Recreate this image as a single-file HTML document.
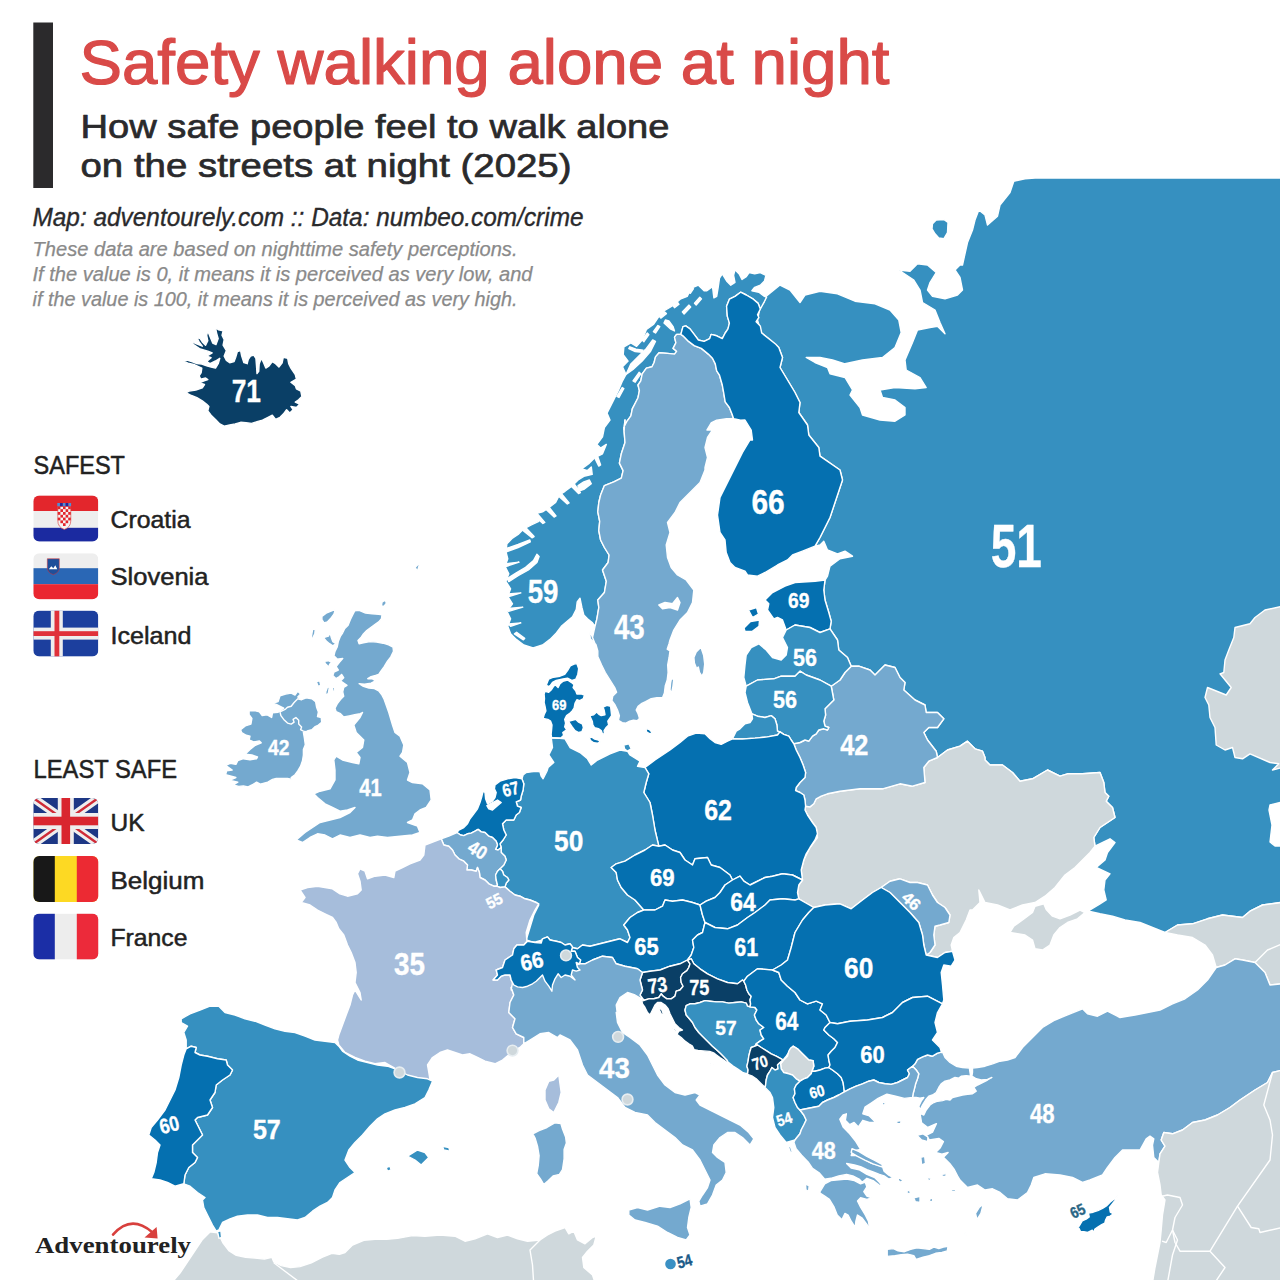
<!DOCTYPE html><html><head><meta charset="utf-8"><style>
html,body{margin:0;padding:0;background:#fff}
body{width:1280px;height:1280px;overflow:hidden;position:relative;font-family:"Liberation Sans",sans-serif}
svg{position:absolute;left:0;top:0;font-family:"Liberation Sans",sans-serif}
.map path{stroke:#fff;stroke-width:1.4;stroke-linejoin:round}
.lab text{font-weight:bold;text-anchor:middle;stroke-width:0.35px;stroke-linejoin:round}
</style></head><body>
<svg width="1280" height="1280" viewBox="0 0 1280 1280">
<defs><clipPath id="fc0"><rect x="33.3" y="495.4" width="65" height="46" rx="6" ry="6"/></clipPath><clipPath id="fc1"><rect x="33.3" y="553.2" width="65" height="46" rx="6" ry="6"/></clipPath><clipPath id="fc2"><rect x="33.3" y="610.6" width="65" height="46" rx="6" ry="6"/></clipPath><clipPath id="fc3"><rect x="33.3" y="798" width="65" height="46" rx="6" ry="6"/></clipPath><clipPath id="fc4"><rect x="33.3" y="856" width="65" height="46" rx="6" ry="6"/></clipPath><clipPath id="fc5"><rect x="33.3" y="913.6" width="65" height="46" rx="6" ry="6"/></clipPath></defs>
<g class="map">
<path d="M766.2,296.2 780,285 790,290 800,302.5 805,295 820,291.2 837.5,293.8 855,301.2 875,303.8 890,310 898.8,320 901.2,332.5 895,347.5 882.5,357.5 862.5,360 845,363.8 832.5,360 820,357.5 806.2,357.5 815,362.5 827.5,367.5 830,373.8 845,377.5 852.5,390 850,395 860,407.5 862.5,415 880,420 895,421.2 905,415 905,407.5 895,400 882.5,397.5 880,390 895,387.5 915,388.8 926.2,387.5 920,377.5 906.2,370 905,360 912.5,342.5 917.5,330 930,327.5 937.5,326.2 945,333.8 940,322.5 935,310 922.5,302.5 920,290 913.8,280 898.8,270 910,271.2 917.5,263.8 927.5,265 936.2,272.5 930,282.5 927.5,290 932.5,296.2 945,298.8 957.5,295 962.5,290 960,277.5 955,270 960,265 962.5,265 967.5,242.5 972.5,230 975,220 978.8,210 985,215 987.5,225 997.5,216.2 1000,205 1010,192.5 1013.8,181.2 1025,178.8 1035,178 1282,178 1282,802 1270,805 1269,810 1272,825 1270,842 1275,846 1282,846 1282,903 1280,902.5 1262.5,905 1250,911.2 1242.5,917.5 1222.5,915 1207.5,918.8 1192.5,923.8 1177.5,925 1165,932.5 1152.5,927.5 1140,922.5 1125,920 1112.5,916.2 1100,913.8 1088.8,911.2 1090,910 1100,903.8 1106.2,900 1103.8,890 1105,880 1110,873.8 1096.2,867.5 1105,860 1107.5,852.5 1115,842.5 1110,838.8 1095,846.2 1095,846.2 1093.8,837.5 1100,827.5 1115,817.5 1112.5,807.5 1106.2,801.2 1108.8,796.2 1105,792.5 1103.8,782.5 1100,772.5 1082.5,773.8 1067.5,773.8 1060,776.2 1047.5,770 1032.5,778.8 1020,781.2 1012.5,772.5 1002.5,765 990,765 985,760 985,757.5 982.5,751.2 975,748.8 967.5,741.2 960,746.2 947.5,750 937.5,757.5 937.5,757.5 936.2,751.2 927.5,740 923.8,732.5 928.8,727.5 937.5,727.5 943.8,718.8 937.5,712.5 926.2,712.5 925,705 915,700 903.8,690 905,682.5 900,677.5 895,667.5 885,665 875,675 870,670 858.8,666.2 851.2,666.2 851.2,666.2 847.5,657.5 838.8,650 837.5,640 830,628.8 830,628.8 831.2,621.2 828.8,612.5 825,600 823.8,590 825,580 827.5,576.2 830,566.2 840,558.8 852.5,556.2 845,551.2 837.5,553.8 827.5,550 823.8,541.2 820,545 815,546.2 820,537.5 830,517.5 837.5,495 842.5,480 840,470 820,456.2 818.8,447.5 808.8,435 807.5,425 798.8,412.5 800,402.5 795,392.5 780,367.5 782.5,357.5 778.8,347.5 761.2,332.5 757.5,320 760,307.5 763.8,302.5Z" fill="#3690c0" stroke="#3690c0" stroke-width="2.5"/>
<path d="M1282.5,606.2 1265,610 1255,617.5 1250,623.8 1235,627.5 1233.8,637.5 1228.8,650 1225,660 1223.8,672.5 1220,673.8 1231.2,687.5 1226.2,695 1207.5,687.5 1205,697.5 1208.8,705 1210,717.5 1215,727.5 1216.2,745 1225,750 1232.5,747.5 1235,757.5 1242.5,758.8 1250,753.8 1270,762.5 1278.8,763.8 1272.5,770 1282.5,767.5Z" fill="#cfd8dc" stroke="#cfd8dc" stroke-width="2.5"/>
<path d="M1282.5,902.5 1262.5,905 1250,911.2 1242.5,917.5 1222.5,915 1207.5,918.8 1192.5,923.8 1177.5,925 1165,932.5 1177.5,935 1192.5,937.5 1205,945 1212.5,955 1216.2,967.5 1225,965 1235,958.8 1242.5,960 1255,962.5 1265,972.5 1270,985 1282.5,983.8Z" fill="#cfd8dc" stroke="#cfd8dc" stroke-width="2.5"/>
<path d="M972.5,1068.1 977.5,1067.5 985,1066.2 992.5,1063.8 1000,1061.2 1007.5,1060 1015,1057.5 1018.8,1052.5 1022.5,1047.5 1027.5,1042.5 1032.5,1037.5 1037.5,1032.5 1042.5,1027.5 1055,1020 1070,1013.8 1082.5,1008.8 1087.5,1013.8 1097.5,1016.2 1107.5,1011.2 1120,1017.5 1135,1015 1147.5,1012.5 1160,1010 1172.5,1003.8 1185,998.8 1197.5,990 1207.5,980 1216.2,967.5 1225,965 1235,958.8 1242.5,960 1255,962.5 1265,972.5 1270,985 1282.5,983.8 1282.5,1070 1272.5,1072.5 1267.5,1082.5 1255,1090 1240,1100 1230,1107.5 1217.5,1115 1205,1120 1192.5,1122.5 1182.5,1130 1172.5,1133.8 1163.8,1132.5 1161.2,1140 1165,1146.2 1160,1153.8 1158.8,1162.5 1153.8,1157.5 1152.5,1145 1153.8,1138.8 1150,1136.2 1146.2,1138.8 1140,1150 1132.5,1150 1122.5,1150 1115,1157.5 1107.5,1167.5 1102.5,1175 1090,1180 1082.5,1182.5 1072.5,1177.5 1060,1175 1045,1173.8 1033.8,1177.5 1031.2,1185 1027.5,1192.5 1017.5,1200 1007.5,1198.8 1000,1192.5 992.5,1188.8 985,1190 977.5,1185 967.5,1187.5 960,1180 957.5,1175.9 954.4,1169.7 949.7,1163.4 943.4,1157.2 948.1,1152.5 941.9,1154.1 935.6,1152.5 940.3,1147.8 943.4,1141.6 938.8,1138.4 929.4,1140 926.2,1135.3 932.5,1132.2 936.4,1123.6 927.8,1127.5 921.6,1122.8 920,1113.4 923.8,1115 926.2,1110 930,1105 933.8,1102.5 937.5,1101.2 942.5,1100.6 946.2,1099.4 950,1100 952.5,1097.5 957.5,1096.2 962.5,1095 967.5,1094.4 972.5,1093.8 976.2,1091.2 973.8,1087.5 977.5,1085 982.5,1082.5 987.5,1080 991.9,1077.5 987.5,1079.4 981.2,1080 976.2,1078.8 971.9,1076.2 972.5,1072.5Z" fill="#74a9cf" stroke="#74a9cf" stroke-width="2.5"/>
<path d="M912.5,1066.2 915,1063.8 917.5,1059.4 922.5,1056.9 927.5,1055 932.5,1056.2 937.5,1053.1 942.5,1051.9 945,1057.5 950,1062.5 956.2,1066.2 962.5,1067.5 969.4,1068.1 970,1072.5 970.6,1076.2 966.2,1075.6 961.2,1076.2 958.8,1078.1 955,1077.5 950,1080 945,1081.2 941.2,1083.8 938.8,1087.5 936.2,1092.5 932.5,1095 928.8,1096.2 925.6,1100 922.5,1105 920,1110 918.8,1106.2 921.2,1101.2 923.8,1097.5 920,1098.1 916.2,1097.5 912.5,1097.5 913.1,1093.8 914.4,1088.8 915.6,1083.8 917.5,1078.8 918.8,1073.8 916.2,1070Z" fill="#74a9cf" stroke="#74a9cf" stroke-width="2.5"/>
<path d="M1282.5,1070 1272.5,1072.5 1267.5,1082.5 1255,1090 1240,1100 1230,1107.5 1217.5,1115 1205,1120 1192.5,1122.5 1182.5,1130 1172.5,1133.8 1163.8,1132.5 1161.2,1140 1165,1146.2 1160,1153.8 1158.8,1162.5 1157.5,1172.5 1160,1185 1161.2,1195 1165,1200 1162.5,1215 1161.2,1230 1160,1242.5 1157.5,1255 1155,1267.5 1152.5,1282.5 1282.5,1282.5Z" fill="#cfd8dc" stroke="#cfd8dc" stroke-width="2.5"/>
<path d="M805,810 807.5,815 812.5,822.5 816.2,827.5 817.5,837.5 810,847.5 803.8,860 801.2,870 802.5,880 798.8,885 797.5,892.5 798.8,898.8 805,902.5 813.8,907.5 825,905 840,903.8 851.2,908.8 862.5,900 872.5,892.5 881.2,887.5 890,881.2 900,878.8 910,882.5 917.5,882.5 927.5,885 932.5,895 937.5,902.5 945,907.5 950,915 948.8,922.5 940,925 935,926.2 933.8,935 935,945 930,952.5 926.2,955 937.5,957.5 945,952.5 952.5,951.2 951.2,945 953.8,937.5 960,932.5 966.2,920 970,910 972.5,910 980,902.5 978.8,890 985,902.5 997.5,905 1010,910 1022.5,905 1035,902.5 1045,896.2 1055,887.5 1065,875 1075,867.5 1082.5,860 1090,852.5 1095,846.2 1095,846.2 1093.8,837.5 1100,827.5 1115,817.5 1112.5,807.5 1106.2,801.2 1108.8,796.2 1105,792.5 1103.8,782.5 1100,772.5 1082.5,773.8 1067.5,773.8 1060,776.2 1047.5,770 1032.5,778.8 1020,781.2 1012.5,772.5 1002.5,765 990,765 985,760 985,757.5 982.5,751.2 975,748.8 967.5,741.2 960,746.2 947.5,750 937.5,757.5 937.5,757.5 928.8,761.2 923.8,767.5 925,782.5 912.5,786.2 900,783.8 882.5,788.8 860,788.8 840,791.2 833.8,792.5 827.5,793.8 821.2,796.2 816.2,798.8 813.8,803.8 810,806.9 805.6,806.2Z" fill="#cfd8dc" stroke="#cfd8dc" stroke-width="2.5"/>
<path d="M831.2,686.2 840,680 845,672.5 851.2,666.2 858.8,666.2 870,670 875,675 885,665 895,667.5 900,677.5 905,682.5 903.8,690 915,700 925,705 926.2,712.5 937.5,712.5 943.8,718.8 937.5,727.5 928.8,727.5 923.8,732.5 927.5,740 936.2,751.2 937.5,757.5 928.8,761.2 923.8,767.5 925,782.5 912.5,786.2 900,783.8 882.5,788.8 860,788.8 840,791.2 833.8,792.5 827.5,793.8 821.2,796.2 816.2,798.8 813.8,803.8 810,806.9 805.6,806.2 805,800 803.8,795 800,792.5 795.6,790.6 796.2,787.5 800,782.5 805,777.5 805.6,772.5 803.1,765 800,757.5 796.2,750 793.8,743.8 800,742.5 805,740 808.8,741.2 812.5,736.2 816.2,733.8 818.8,730 823.8,728.8 827.5,730 828.8,727.5 825,726.2 823.8,721.2 825.6,715 825,708.8 830,703.8 833.8,700Z" fill="#74a9cf" stroke="#74a9cf" stroke-width="2.5"/>
<path d="M881.2,887.5 890,881.2 900,878.8 910,882.5 917.5,882.5 927.5,885 932.5,895 937.5,902.5 945,907.5 950,915 948.8,922.5 940,925 935,926.2 933.8,935 935,945 930,952.5 926.2,955 923.8,945 922.5,935 918.8,922.5 910,912.5 900,902.5 890,892.5Z" fill="#74a9cf" stroke="#74a9cf" stroke-width="2.5"/>
<path d="M595,626.3 592.2,622.5 587.5,618.8 583.8,615 581.9,607.5 580,598.1 577.2,601.9 576.3,609.4 572.5,616.9 566.9,621.6 561.3,626.3 555.6,633.8 550,639.4 542.5,645 533.1,647.8 523.8,645 516.3,639.4 510.6,633.8 507.8,626.3 510.6,618.8 506.9,611.3 512.5,603.8 507.8,596.3 510.6,588.8 505.9,581.3 508.8,573.8 505,566.3 507.8,558.8 505.9,551.3 506.9,543.8 512.5,538.1 518.1,534.4 523.8,528.8 531.3,525 538.8,521.3 535,513.8 542.5,511.9 548.1,508.1 555.6,502.5 559.4,495 565,491.3 572.5,485.6 578.1,480 583.8,476.3 592.2,474.4 591.3,466.9 587.5,470.6 581.9,468.8 589.4,463.1 595,457.5 602.5,453.8 606.3,444.4 600.6,448.1 596.9,444.4 602.5,436.9 604.4,427.5 610,420 607,413.1 612.7,401.9 618.3,390.6 622.5,380.8 626,374.5 622.5,366.7 628.1,361.1 623.2,354.8 623.9,347 630.9,342.8 636.6,346.3 642.2,340 646.4,329.5 653.4,324.5 659.1,316.1 664.7,310.5 673.1,305.5 680.2,299.2 687.2,296.4 691.4,288 698.4,285.2 704.1,290.8 706.9,290.8 712.5,286.6 713.9,297.8 716.7,296.4 718.1,288 719.5,278.1 722.3,273.9 726.6,280.9 730.8,285.2 735,282.3 733.6,275.3 735,269.7 739.2,273.9 742,279.5 746.3,276.7 749.1,272.5 754.7,273.9 760.3,272.5 765.9,275.3 764.5,280.9 760.3,285.2 754.7,287.3 751.9,290.8 758.9,292.2 764.5,296.4 766.6,297.1 763.8,302.7 760.3,309.1 760.3,309.1 758.2,303.4 753.3,299.2 746.3,295 740.6,292.2 735,296.4 729.4,299.2 726.6,306.3 727.3,316.1 729.4,323.1 728,328.8 725.2,333 722.3,338.6 716.7,335.8 711.1,334.4 709.7,338.6 704.1,341.4 698.4,340 694.2,334.4 690,328.8 685.8,325.9 683,326.6 681.6,331.6 680.9,334.4 680.9,334.4 676.6,334.4 674.5,337.2 675.9,342.8 673.1,348.4 676.6,351.3 674.5,354.1 667.5,353.4 659.1,352.7 655.5,356.9 654.1,362.5 652,366.7 646.4,368.1 642.2,373.8 640.8,380.8 638,385 639.4,390.6 638,397.7 635.2,403.3 632.3,408.9 630.9,415.9 626.7,421.6 623.9,427.2 623.9,430 625,420 624.1,431.3 625,442.5 621.3,453.8 619.4,463.1 623.1,470.6 621.3,478.1 613.8,481.9 604.4,485.6 600.6,495 598.8,502.5 597.8,511.9 599.7,521.3 598.8,530.6 600.6,540 604.4,547.5 609.1,555 608.1,562.5 602.5,570 606.3,581.3 604.4,592.5 597.8,600 598.8,607.5 596.9,618.8 595,626.3Z" fill="#3690c0" stroke="#3690c0" stroke-width="2.5"/>
<path d="M595,626.3 596.9,618.8 598.8,607.5 597.8,600 604.4,592.5 606.3,581.3 602.5,570 608.1,562.5 609.1,555 604.4,547.5 600.6,540 598.8,530.6 599.7,521.3 597.8,511.9 598.8,502.5 600.6,495 604.4,485.6 613.8,481.9 621.3,478.1 623.1,470.6 619.4,463.1 621.3,453.8 625,442.5 624.1,431.3 625,420 623.9,430 623.9,427.2 626.7,421.6 630.9,415.9 632.3,408.9 635.2,403.3 638,397.7 639.4,390.6 638,385 640.8,380.8 642.2,373.8 646.4,368.1 652,366.7 654.1,362.5 655.5,356.9 659.1,352.7 667.5,353.4 674.5,354.1 676.6,351.3 673.1,348.4 675.9,342.8 674.5,337.2 676.6,334.4 680.9,334.4 680.9,334.4 683,335.8 688.6,341.4 694.2,345.6 701.3,348.4 708.3,354.1 712.5,358.3 715.3,363.9 716.7,370.9 719.5,375.2 722.3,385 723.8,393.4 725.2,401.9 729.4,407.5 732.2,414.5 733.6,418.8 726.6,418.8 716.7,420.2 711.1,423 706.9,430 712.5,430 707.5,437.5 705,447.5 707.5,457.5 705,467.5 705,470 700,482.5 690,492.5 680,502.5 675,512.5 667.5,522.5 670,532.5 666.2,545 667.5,557.5 671.2,567.5 677.5,575 686.2,580 693.8,590 692.5,602.5 687.5,612.5 680,620 673.8,630 670,640 669.1,643.4 667.2,649.1 670,650.9 669.1,657.5 667.7,665 668.1,672.5 667.2,680 665.3,685.6 664.4,693.1 662.5,697.8 656.9,697.8 651.2,698.7 645.6,701.6 641.9,703.4 638.1,706.2 636.2,710 638.1,713.7 639.5,718.4 637.2,720.8 633.4,720.3 629.7,721.2 625.9,723.1 622.2,722.7 618.4,720.3 619.4,715.6 617.5,710 614.7,704.4 611.9,700.6 612.8,695.9 616.6,692.2 614.7,687.5 610,680 605.3,672.5 601.6,665 597.8,656.6 597.8,650.9 595.9,644.4 590.3,638.7 589.4,629.4 597.5,650 592.5,637.5Z" fill="#74a9cf" stroke="#74a9cf" stroke-width="2.5"/>
<path d="M683,326.6 685.8,325.9 690,328.8 694.2,334.4 698.4,340 704.1,341.4 709.7,338.6 711.1,334.4 716.7,335.8 722.3,338.6 725.2,333 728,328.8 729.4,323.1 727.3,316.1 726.6,306.3 729.4,299.2 735,296.4 740.6,292.2 746.3,295 753.3,299.2 758.2,303.4 760.3,309.1 757.5,314.7 758.9,317.5 756.1,321.7 760.3,325.9 761.7,333 768.8,338.6 775.8,344.2 778.8,347.5 782.5,357.5 780,367.5 795,392.5 800,402.5 798.8,412.5 807.5,425 808.8,435 818.8,447.5 820,456.2 840,470 842.5,480 842.5,480 837.5,495 830,517.5 820,537.5 815,546.2 802.5,551.2 792.5,555 787.5,560 777.5,565 765,572.5 757.5,576.2 747.5,575 745,571.2 735,567.5 730,562.5 726.2,552.5 725,540 720,532.5 717.5,515 720,497.5 727.5,482.5 735,467.5 742.5,452.5 750,440 752.5,440 751.2,430 745,420 740.6,420.2 733.6,418.8 732.2,414.5 729.4,407.5 725.2,401.9 723.8,393.4 722.3,385 719.5,375.2 716.7,370.9 715.3,363.9 712.5,358.3 708.3,354.1 701.3,348.4 694.2,345.6 688.6,341.4 683,335.8 680.9,334.4 681.6,331.6Z" fill="#0570b0" stroke="#0570b0" stroke-width="2.5"/>
<path d="M765,600 772.5,592.5 785,586.2 795,582.5 815,581.2 825,580 823.8,590 825,600 828.8,612.5 831.2,621.2 830,628.8 820,632.5 810,627.5 795,625 786.2,630 782.5,620 777.5,617.5 773.8,618.8 767.5,610 768.8,603.8Z" fill="#0570b0" stroke="#0570b0" stroke-width="2.5"/>
<path d="M786.2,630 795,625 810,627.5 820,632.5 830,628.8 837.5,640 838.8,650 847.5,657.5 851.2,666.2 845,672.5 840,680 831.2,686.2 820,680 806.2,675 800,671.2 795,676.2 781.2,676.2 773.8,678.8 757.5,680 746.2,686.2 743.8,677.5 745,665 746.2,655 751.2,647.5 758.8,643.8 766.2,650 772.5,657.5 781.2,660 786.2,655 787.5,647.5 782.5,637.5Z" fill="#3690c0" stroke="#3690c0" stroke-width="2.5"/>
<path d="M746.2,686.2 757.5,680 773.8,678.8 781.2,676.2 795,676.2 800,671.2 806.2,675 820,680 831.2,686.2 833.8,700 830,703.8 825,708.8 825.6,715 823.8,721.2 825,726.2 828.8,727.5 827.5,730 823.8,728.8 818.8,730 816.2,733.8 812.5,736.2 808.8,741.2 805,740 800,742.5 793.8,743.8 791.2,740 788.8,736.2 783.8,734.4 780,731.9 777.5,731.2 776.9,725 775,718.8 771.2,715.6 765,717.5 757.5,716.2 751.9,713.8 747.5,702.5 745,692.5Z" fill="#3690c0" stroke="#3690c0" stroke-width="2.5"/>
<path d="M751.9,713.8 757.5,716.2 765,717.5 771.2,715.6 775,718.8 776.9,725 777.5,731.2 780,731.9 777.5,735 767.5,736.9 755,738.1 742.5,739 732.5,738.8 736.2,731.2 740,728.8 745,723.8 750,722.5 752.5,718.8Z" fill="#3690c0" stroke="#3690c0" stroke-width="2.5"/>
<path d="M645,767.5 655,760 670,750 680,742.5 687.5,736.2 696.2,733.1 705,733.8 710,738.8 715,742.5 721.2,744.4 727.5,741.2 732.5,738.8 742.5,739 755,738.1 767.5,736.9 777.5,735 780,731.9 783.8,734.4 788.8,736.2 791.2,740 793.8,743.8 796.2,750 800,757.5 803.1,765 805.6,772.5 805,777.5 800,782.5 796.2,787.5 795.6,790.6 800,792.5 803.8,795 805,800 805.6,806.2 805,810 807.5,815 812.5,822.5 816.2,827.5 817.5,833.8 815,840 810,847.5 806.2,853.8 803.8,860 801.2,870 802.5,880 792.5,875 782.5,873.8 772.5,876.2 765,877.5 755,882.5 750,885 743.8,881.2 740,876.2 732.5,880 730,875 720,867.5 711.2,865 707.5,857.5 695,858.8 692.5,865 685,860 680,852.5 672.5,850 665,845 658.8,846.2 655,830 652.5,815 650,802.5 643.8,792.5 646.2,782.5 648.8,773.8Z" fill="#0570b0" stroke="#0570b0" stroke-width="2.5"/>
<path d="M551.2,737.5 552.5,747.5 548.8,755 553.8,762.5 548.1,767.5 546.9,771.2 545,775 543.1,778.8 541.2,776.2 540,771.9 536.2,771.2 531.2,771.9 526.2,772.5 523.1,775 521.9,778.8 523.8,783.8 523.1,790 521.2,796.2 520.6,800 516.2,801.9 517.5,806.2 521.2,807.5 519.4,812.5 516.2,815 513.8,820 506.2,820 502.5,823.8 503.8,830 506.2,835 503.1,840 500,843.8 501.2,847.5 501.2,852.5 505,856.2 506.2,860 503.8,865 500,868.8 502.5,871.2 503.8,875 507.5,877.5 508.8,880 506.2,883.1 505,886.9 510,891.2 515,895 520,896.2 525,898.8 530,900 536.2,902.5 538.8,905 533.8,915 530,927.5 526.2,940 533.8,942.5 542.5,940 546.2,937.5 552.5,941.2 562.5,943.8 566.2,946.2 577.5,948.8 582.5,945 590,946.2 600,943.8 610,941.2 620,938.8 627.5,942.5 630,937.5 627.5,930 623.8,925 630,917.5 637.5,912.5 643.8,910 635,900 627.5,895 621.2,887.5 617.5,880 616.2,872.5 611.2,867.5 616.2,863.8 625,861.2 635,855 645,850 652.5,845 658.8,846.2 655,830 652.5,815 650,802.5 643.8,792.5 646.2,782.5 648.8,773.8 645,767.5 637.5,766.2 640,761.2 630,755 627.5,751.2 620,750 610,753.8 597.5,760 591.2,765 587.5,758.8 580,752.5 570,747.5 565,738.8Z" fill="#3690c0" stroke="#3690c0" stroke-width="2.5"/>
<path d="M611.2,867.5 616.2,863.8 625,861.2 635,855 645,850 652.5,845 658.8,846.2 665,845 672.5,850 680,852.5 685,860 692.5,865 695,858.8 707.5,857.5 711.2,865 720,867.5 730,875 732.5,880 725,885 720,892.5 715,897.5 706.2,901.2 700,905 692.5,902.5 682.5,900 672.5,901.2 665,900 662.5,906.2 655,910 643.8,910 635,900 627.5,895 621.2,887.5 617.5,880 616.2,872.5Z" fill="#0570b0" stroke="#0570b0" stroke-width="2.5"/>
<path d="M566.2,946.2 577.5,948.8 582.5,945 590,946.2 600,943.8 610,941.2 620,938.8 627.5,942.5 630,937.5 627.5,930 623.8,925 630,917.5 637.5,912.5 643.8,910 655,910 662.5,906.2 665,900 672.5,901.2 682.5,900 692.5,902.5 700,905 702.5,915 705,922.5 702.5,932.5 697.5,935 692.5,940 693.8,947.5 691.2,955 687.5,960 680,963.8 670,966.2 660,970 650,971.2 642.5,972.5 637.5,968.8 625,966.2 616.2,963.8 612.5,957.5 602.5,956.2 592.5,960 585,963.8 580,966.2 576.2,960 572.5,966.2 567.5,960 566.2,952.5Z" fill="#0570b0" stroke="#0570b0" stroke-width="2.5"/>
<path d="M493.1,980 497.5,975 496.2,970 502.5,967.5 505,960 512.5,955 513.8,948.8 516.9,945 523.8,945 527.5,941.2 535,942.5 541.2,943.1 542.5,938.8 547.5,936.9 550,940 556.2,941.2 561.2,942.5 565,945 570,943.8 572.5,946.9 571.2,951.2 575,951.2 577.5,957.5 580.6,960 579.4,963.8 576.2,962.5 577.5,967.5 580,970 576.2,971.2 572.5,970 571.2,975 575,980 570,976.2 565,975 561.2,977.5 558.1,973.8 555,978.8 552.5,985 551.9,991.2 548.8,986.2 545,981.2 542.5,975 540,977.5 536.2,981.2 532.5,983.8 527.5,986.2 522.5,987.5 517.5,986.9 513.8,985 511.2,980 510,975 505,975 501.2,976.2 497.5,980Z" fill="#0570b0" stroke="#0570b0" stroke-width="2.5"/>
<path d="M700,905 706.2,901.2 715,897.5 720,892.5 725,885 732.5,880 740,876.2 743.8,881.2 750,885 755,882.5 765,877.5 772.5,876.2 782.5,873.8 792.5,875 802.5,880 798.8,885 797.5,892.5 798.8,898.8 795,900 782.5,898.8 770,900 765,905 765,905 755,912.5 747.5,917.5 737.5,925 727.5,928.8 715,927.5 705,922.5 702.5,915Z" fill="#0570b0" stroke="#0570b0" stroke-width="2.5"/>
<path d="M693.8,947.5 692.5,940 697.5,935 702.5,932.5 705,922.5 715,927.5 727.5,928.8 737.5,925 747.5,917.5 755,912.5 765,905 765,905 770,900 782.5,898.8 795,900 798.8,898.8 805,902.5 813.8,907.5 808.8,912.5 802.5,920 795,932.5 791.2,947.5 787.5,960 781.2,965 772.5,970 757.5,968.8 752.5,972.5 747.5,976.2 743.8,981.2 742.5,980 737.5,983.8 727.5,982.5 717.5,978.8 707.5,973.8 700,968.8 693.8,963.8 691.2,958.8 687.5,960 691.2,955Z" fill="#0570b0" stroke="#0570b0" stroke-width="2.5"/>
<path d="M642.5,972.5 650,971.2 660,970 670,966.2 680,963.8 687.5,960 690,963.8 688.8,967.5 686.9,970.6 682.5,973.8 680.6,977.5 681.2,982.5 683.1,986.2 680,990 676.2,991.2 675,996.2 671.2,998.8 666.9,998.8 663.1,996.2 661.2,993.8 658.8,997.5 653.8,998.8 648.8,998.8 645,1000 641.9,1001.2 640,995 642.5,990 640,980Z" fill="#0a3f66" stroke="#0a3f66" stroke-width="2.5"/>
<path d="M687.5,960 691.2,958.8 693.8,963.8 700,968.8 707.5,973.8 717.5,978.8 727.5,982.5 737.5,983.8 742.5,980 743.8,981.2 745.6,985 746.9,990 748.8,993.8 751.2,996.2 750,1000 750.6,1003.8 750,1006.9 747.5,1006.2 746.2,1003.1 741.2,1001.9 735,1002.5 728.8,1003.1 722.5,1001.9 716.2,1001.9 710,1001.2 705,1000.6 700,1002.5 695,1003.8 690,1003.8 686.2,1005.6 685,1010 686.2,1015 689.4,1018.8 692.5,1022.5 695,1027.5 698.8,1032.5 702.5,1036.2 707.5,1041.2 712.5,1046.2 718.2,1051.2 720.6,1053.6 723.8,1056.8 726.9,1059.9 728,1062.1 726.9,1062.6 723.8,1060 719.9,1057.6 716.8,1055.2 713.6,1052.9 709.6,1051.4 703.4,1050.9 698,1050.5 694,1049.6 692.5,1046.2 688.8,1043.8 685,1041.2 681.2,1037.5 676.9,1034.4 678.8,1031.2 682.5,1030 678.8,1027.5 675,1023.8 672.5,1018.8 670,1013.8 668.1,1008.8 665,1005 661.2,1002.5 657.5,1002.5 655,1005 652.5,1010 650,1015 647.5,1012.5 645,1007.5 642.5,1003.8 641.9,1001.2 645,1000 648.8,998.8 653.8,998.8 658.8,997.5 661.2,993.8 663.1,996.2 666.9,998.8 671.2,998.8 675,996.2 676.2,991.2 680,990 683.1,986.2 681.2,982.5 680.6,977.5 682.5,973.8 686.9,970.6 688.8,967.5 690,963.8Z" fill="#0a3f66" stroke="#0a3f66" stroke-width="2.5"/>
<path d="M686.2,1005.6 690,1003.8 695,1003.8 700,1002.5 705,1000.6 710,1001.2 716.2,1001.9 722.5,1001.9 728.8,1003.1 735,1002.5 741.2,1001.9 746.2,1003.1 747.5,1006.2 750,1006.9 755,1007.5 756.9,1010 754.4,1015 756.2,1020 758.8,1023.8 763.8,1027.5 760,1030 761.2,1035 763.8,1038.8 760,1041.2 756.2,1043.8 755,1046.2 751.2,1047.5 750,1051.2 748.8,1056.2 748.1,1061.2 746.9,1066.2 748.1,1070 747.1,1073.9 742.5,1072.4 737.8,1069.2 733.1,1066.1 728,1062.1 726.9,1059.9 723.8,1056.8 720.6,1053.6 718.2,1051.2 712.5,1046.2 707.5,1041.2 702.5,1036.2 698.8,1032.5 695,1027.5 692.5,1022.5 689.4,1018.8 686.2,1015 685,1010Z" fill="#3690c0" stroke="#3690c0" stroke-width="2.5"/>
<path d="M747.5,976.2 752.5,972.5 757.5,968.8 772.5,970 778.8,972.5 781.2,980 787.5,986.2 795,992.5 800,1000 807.5,1003.8 816.2,1001.2 822.5,1003.8 820,1010 826.2,1015 830,1022.5 825,1027.5 823.8,1030 828.8,1035 833.8,1038.8 837.5,1042.5 835,1047.5 831.2,1051.2 828.1,1055 828.8,1060 830,1065 828.8,1067.5 825,1068.1 820,1070 815,1071.2 811.9,1071.2 813.8,1066.2 813.1,1060.6 808.8,1060 805,1056.2 801.2,1052.5 797.5,1048.8 793.1,1046.2 788.8,1052.5 786.2,1056.2 783.1,1060 781.2,1058.8 776.2,1056.2 771.2,1053.8 766.2,1050.6 761.2,1047.5 757.5,1045 755,1046.2 756.2,1043.8 760,1041.2 763.8,1038.8 761.2,1035 760,1030 763.8,1027.5 758.8,1023.8 756.2,1020 754.4,1015 756.9,1010 755,1007.5 750,1006.9 750.6,1003.8 750,1000 751.2,996.2 748.8,993.8 746.9,990 745.6,985 743.8,981.2Z" fill="#0570b0" stroke="#0570b0" stroke-width="2.5"/>
<path d="M793.1,1046.2 797.5,1048.8 801.2,1052.5 805,1056.2 808.8,1060 813.1,1060.6 813.8,1066.2 811.9,1071.2 811.2,1073.8 807.5,1077.5 803.8,1078.8 800,1081.2 796.2,1078.8 792.5,1075 788.8,1073.8 783.8,1072.5 781.2,1068.8 780.6,1063.8 783.8,1060 787.5,1056.2 788.8,1051.2 790.6,1048.1Z" fill="#cfd8dc" stroke="#cfd8dc" stroke-width="2.5"/>
<path d="M755,1046.2 757.5,1045 761.2,1047.5 766.2,1050.6 771.2,1053.8 776.2,1056.2 781.2,1058.8 783.1,1060 780,1062.5 777.5,1065 778.1,1068.8 775,1070 771.9,1067.5 770,1071.2 767.5,1075 766.2,1080 765.6,1085 765,1087.5 761.2,1083.8 756.2,1078.8 752.5,1076.2 747.5,1074.4 748.1,1070 746.9,1066.2 748.1,1061.2 748.8,1056.2 750,1051.2 751.2,1047.5Z" fill="#0a3f66" stroke="#0a3f66" stroke-width="2.5"/>
<path d="M765,1087.5 765.6,1085 766.2,1080 767.5,1075 770,1071.2 771.9,1067.5 775,1070 778.1,1068.8 777.5,1065 780,1062.5 783.1,1060 780.6,1063.8 781.2,1068.8 783.8,1072.5 788.8,1073.8 792.5,1075 796.2,1078.8 800,1081.2 796.2,1085 794.4,1088.8 795,1093.8 793.1,1097.5 795,1102.5 797.5,1107.5 800,1110 803.8,1115 806.2,1120 803.8,1125 801.2,1130 800,1133.8 796.9,1137.5 795,1140 786.2,1142.5 780,1135 775,1127.5 772.5,1117.5 773.8,1107.5 772.5,1097.5 770,1092.5Z" fill="#3690c0" stroke="#3690c0" stroke-width="2.5"/>
<path d="M828.8,1067.5 825,1068.1 820,1070 815,1071.2 811.9,1071.2 811.2,1073.8 807.5,1077.5 803.8,1078.8 800,1081.2 796.2,1085 794.4,1088.8 795,1093.8 793.1,1097.5 795,1102.5 797.5,1107.5 800,1110 806.2,1108.8 812.5,1107.5 818.8,1106.2 822.5,1102.5 827.5,1100 833.8,1097.5 838.8,1095 844.4,1091.9 843.8,1087.5 843.1,1082.5 841.2,1077.5 837.5,1073.8 832.5,1070Z" fill="#0570b0" stroke="#0570b0" stroke-width="2.5"/>
<path d="M813.8,907.5 825,905 840,903.8 851.2,908.8 862.5,900 872.5,892.5 881.2,887.5 890,892.5 900,902.5 910,912.5 918.8,922.5 922.5,935 923.8,945 926.2,955 937.5,957.5 945,952.5 952.5,951.2 955,960 951.2,966.2 943.8,965 941.2,972.5 942.5,985 943.8,1000 942.5,1003.8 927.5,996.2 912.5,997.5 902.5,1002.5 892.5,1012.5 882.5,1017.5 867.5,1020 850,1021.2 837.5,1023.8 830,1022.5 826.2,1015 820,1010 822.5,1003.8 816.2,1001.2 807.5,1003.8 800,1000 795,992.5 787.5,986.2 781.2,980 778.8,972.5 772.5,970 781.2,965 787.5,960 791.2,947.5 795,932.5 802.5,920 808.8,912.5Z" fill="#0570b0" stroke="#0570b0" stroke-width="2.5"/>
<path d="M830,1022.5 837.5,1023.8 850,1021.2 867.5,1020 882.5,1017.5 892.5,1012.5 902.5,1002.5 912.5,997.5 927.5,996.2 942.5,1003.8 937.5,1012.5 935,1022.5 937.5,1032.5 932.5,1040 940,1047.5 941.6,1052.5 942.5,1051.9 937.5,1053.1 932.5,1056.2 927.5,1055 922.5,1056.9 917.5,1059.4 915,1063.8 912.5,1066.2 907.5,1070 909.4,1073.8 907.5,1077.5 902.5,1080 897.5,1082.5 891.2,1084.4 885,1083.8 878.8,1082.5 873.8,1080 868.8,1081.2 862.5,1083.8 856.2,1086.2 850,1088.8 844.4,1091.9 843.8,1087.5 843.1,1082.5 841.2,1077.5 837.5,1073.8 832.5,1070 828.8,1067.5 830,1065 828.8,1060 828.1,1055 831.2,1051.2 835,1047.5 837.5,1042.5 833.8,1038.8 828.8,1035 823.8,1030 825,1027.5Z" fill="#0570b0" stroke="#0570b0" stroke-width="2.5"/>
<path d="M521.9,778.8 523.8,783.8 523.1,790 521.2,796.2 520.6,800 516.2,801.9 517.5,806.2 521.2,807.5 519.4,812.5 516.2,815 513.8,820 506.2,820 502.5,823.8 503.8,830 506.2,835 503.1,840 500,843.8 501.2,847.5 498.1,850 495.6,849.4 497.5,845 496.2,841.2 492.5,837.5 488.8,836.2 485,832.5 481.2,831.9 478.1,829.4 475,831.2 471.2,833.1 467.5,833.8 463.8,835.6 460.6,835 456.9,832.5 458.8,830 463.8,827.5 467.5,823.8 470,818.8 473.8,813.8 477.5,808.8 480,802.5 481.9,796.2 483.1,791.2 485,792.5 485.6,798.8 487.5,803.8 492.5,801.2 495,797.5 496.2,792.5 494.4,788.8 495,785 500,781.2 507.5,778.8 515,777.5Z" fill="#0570b0" stroke="#0570b0" stroke-width="2.5"/>
<path d="M441.2,838.8 448.8,836.2 456.9,832.5 460.6,835 463.8,835.6 467.5,833.8 471.2,833.1 475,831.2 478.1,829.4 481.2,831.9 485,832.5 488.8,836.2 492.5,837.5 496.2,841.2 497.5,845 495.6,849.4 498.1,850 501.2,847.5 501.2,852.5 505,856.2 506.2,860 503.8,865 500,868.8 497.5,871.2 495.6,875 496.2,880 497.5,885 496.9,886.2 493.8,886.2 488.8,883.8 485,880 480,877.5 479.4,872.5 477.5,867.5 476.2,871.2 471.2,870 466.9,870 467.5,865 463.8,861.2 458.8,858.8 455,855 452.5,850 448.8,846.2 443.8,845Z" fill="#74a9cf" stroke="#74a9cf" stroke-width="2.5"/>
<path d="M425,845 423.8,855 420,860 410,863.8 402.5,867.5 395,871.2 393.8,877.5 385,875 375,876.2 367.5,878.8 365,871.2 360,868.8 357.5,873.8 360,881.2 361.2,890 357.5,893.8 347.5,896.2 340,893.8 332.5,888.8 325,887.5 317.5,886.2 307.5,887.5 300,890 305,897.5 301.2,902.5 310,905 317.5,910 325,913.8 332.5,917.5 336.2,922.5 338.8,928.8 343.8,935 347.5,945 351.2,952.5 355,962.5 356.2,972.5 355,982.5 360,992.5 361.2,1000 355,990 352.5,995 350,1005 346.2,1015 342.5,1025 338.8,1035 337.5,1040 338.8,1045 345,1052.5 355,1057.5 365,1061.2 375,1063.8 385,1062.5 393.8,1067.5 400,1072.5 407.5,1076.2 415,1077.5 422.5,1081.2 430,1080 428.8,1072.5 427.5,1065 432.5,1057.5 440,1052.5 447.5,1050 455,1052.5 462.5,1055 470,1053.8 477.5,1057.5 485,1061.2 495,1063.8 502.5,1060 510,1053.8 515,1050 520,1047.5 523.8,1043.8 523.8,1037.5 516.2,1033.8 512.5,1027.5 515,1018.8 508.8,1012.5 510,1002.5 513.8,995 511.2,987.5 513.8,985 511.2,980 510,975 505,975 501.2,976.2 497.5,980 493.1,980 497.5,975 496.2,970 502.5,967.5 505,960 512.5,955 513.8,948.8 516.9,945 523.8,945 526.9,941.2 526.2,932.5 530,920 535,910 538.8,903.8 536.2,902.5 530,900 525,898.8 520,896.2 515,895 510,891.2 505,886.9 500,887.5 496.9,886.2 493.8,886.2 488.8,883.8 485,880 480,877.5 479.4,872.5 477.5,867.5 476.2,871.2 471.2,870 466.9,870 467.5,865 463.8,861.2 458.8,858.8 455,855 452.5,850 448.8,846.2 443.8,845 441.2,838.8Z" fill="#a6bddb" stroke="#a6bddb" stroke-width="2.5"/>
<path d="M511.2,990 512.5,982.5 520,980 530,977.5 540,975 550,972.5 560,970 570,966.2 580,963.8 585,963.8 592.5,960 602.5,956.2 612.5,957.5 616.2,963.8 625,966.2 637.5,968.8 642.5,972.5 640,980 642.5,990 640,995 643.8,1000 635,995 627.5,992.5 620,997.5 616.2,1005 617.5,1015 621.2,1022.5 616.2,1012.5 617.5,1022.5 622.5,1032.5 630,1037.5 640,1045 647.5,1055 652.5,1065 657.5,1075 665,1085 675,1092.5 685,1095 695,1092.5 700,1095 696.2,1100 700,1105 710,1110 720,1115 730,1120 740,1125 748.8,1132.5 753.8,1138.8 750,1145 742.5,1137.5 735,1132.5 727.5,1132.5 720,1137.5 713.8,1145 712.5,1152.5 717.5,1157.5 725,1162.5 726.2,1172.5 722.5,1180 716.2,1185 712.5,1195 707.5,1203.8 700,1206.2 698.8,1201.2 702.5,1195 707.5,1187.5 710,1180 705,1170 700,1160 692.5,1150 682.5,1145 675,1137.5 665,1130 655,1122.5 647.5,1115 635,1112.5 625,1107.5 617.5,1097.5 607.5,1090 597.5,1082.5 587.5,1075 582.5,1065 577.5,1050 570,1040 560,1035 557.5,1037.5 548.8,1032.5 540,1033.8 530,1040 523.8,1043.8 523.8,1037.5 516.2,1033.8 512.5,1027.5 515,1018.8 508.8,1012.5 510,1002.5 513.8,995 511.2,987.5Z" fill="#74a9cf" stroke="#74a9cf" stroke-width="2.5"/>
<path d="M181.2,1018.8 190,1013.8 200,1010 210,1006.2 218.8,1006.2 225,1012.5 235,1015 245,1018.8 255,1021.2 265,1025 275,1028.8 285,1031.2 295,1032.5 305,1036.2 315,1040 325,1041.2 335,1042.5 338.8,1046.2 342.5,1051.2 350,1056.2 357.5,1060 367.5,1062.5 377.5,1065 387.5,1066.2 395,1068.8 400,1071.2 407.5,1075 417.5,1077.5 427.5,1078.8 432.5,1081.2 428.8,1090 425,1097.5 415,1103.8 405,1107.5 395,1110 385,1113.8 377.5,1118.8 370,1126.2 362.5,1135 355,1142.5 348.8,1150 345,1160 350,1167.5 355,1172.5 347.5,1177.5 340,1182.5 335,1190 332.5,1197.5 327.5,1202.5 320,1206.2 312.5,1211.2 305,1217.5 297.5,1220 287.5,1218.8 277.5,1217.5 267.5,1217.5 257.5,1215 247.5,1215 237.5,1216.2 230,1218.8 222.5,1222.5 218.8,1230 216.2,1231.2 212.5,1225 207.5,1215 203.8,1207.5 202.5,1200 205,1197.5 197.5,1192.5 190,1186.2 183.8,1183.8 185,1175 188.8,1167.5 195,1162.5 197.5,1157.5 192.5,1152.5 192.5,1145 197.5,1140 202.5,1135 198.8,1127.5 195,1120 197.5,1117.5 207.5,1115 212.5,1107.5 210,1100 215,1092.5 216.2,1085 222.5,1080 230,1075 232.5,1070 227.5,1065 226.2,1060 217.5,1058.8 207.5,1056.2 200,1055 195,1052.5 196.2,1047.5 191.2,1046.2 186.2,1048.8 186.2,1040 183.8,1032.5 187.5,1026.2 181.2,1022.5Z" fill="#3690c0" stroke="#3690c0" stroke-width="2.5"/>
<path d="M186.2,1048.8 191.2,1046.2 196.2,1047.5 195,1052.5 200,1055 207.5,1056.2 217.5,1058.8 226.2,1060 227.5,1065 232.5,1070 230,1075 222.5,1080 216.2,1085 215,1092.5 210,1100 212.5,1107.5 207.5,1115 197.5,1117.5 195,1120 198.8,1127.5 202.5,1135 197.5,1140 192.5,1145 192.5,1152.5 197.5,1157.5 195,1162.5 188.8,1167.5 185,1175 183.8,1183.8 175,1186.2 167.5,1182.5 160,1180 151.2,1178.8 153.8,1172.5 156.2,1162.5 157.5,1152.5 160,1145 155,1140 148.8,1135 151.2,1127.5 157.5,1120 165,1110 170,1100 175,1090 178.8,1077.5 181.2,1065 183.8,1055Z" fill="#0570b0" stroke="#0570b0" stroke-width="2.5"/>
<path d="M795,1140 796.9,1137.5 800,1133.8 801.2,1130 803.8,1125 806.2,1120 803.8,1115 800,1110 806.2,1108.8 812.5,1107.5 818.8,1106.2 822.5,1102.5 827.5,1100 833.8,1097.5 838.8,1095 844.4,1091.9 850,1088.8 856.2,1086.2 862.5,1083.8 868.8,1081.2 873.8,1080 878.8,1082.5 885,1083.8 891.2,1084.4 897.5,1082.5 902.5,1080 907.5,1077.5 909.4,1073.8 907.5,1070 912.5,1066.2 916.2,1070 918.8,1073.8 917.5,1078.8 915.6,1083.8 914.4,1088.8 913.1,1093.8 912.5,1097.5 904.4,1098.4 895.6,1096.3 886.9,1094.1 878.1,1098.4 871.6,1102.8 865,1107.2 862.8,1113.8 869.4,1115.9 875.9,1122.5 869.4,1122.5 862.8,1120.3 858.4,1126.9 854.1,1122.5 849.7,1124.7 845.3,1120.3 846.4,1113.8 843.1,1114.8 839.8,1119.2 843.1,1126.9 849.7,1133.8 855.9,1141.6 860.6,1149.4 852.8,1150.9 851.2,1155.6 857.5,1155.6 863.8,1158.8 871.6,1163.4 877.8,1165 882.5,1166.6 884.1,1171.2 888.8,1175.2 893.4,1177.5 888.8,1179.1 884.1,1175.9 879.4,1174.4 873.1,1172 866.9,1169.7 860.6,1166.6 854.4,1165 846.6,1163.4 851.2,1168.1 859.1,1169.7 866.9,1174.4 874.7,1177.5 879.4,1182.2 882.5,1186.9 879.4,1185.3 873.1,1180.6 866.9,1178.3 862.2,1182.2 859.1,1179.1 852.8,1175.9 846.6,1174.4 838.8,1175.9 830.9,1178.3 824.7,1179.1 819.1,1172.8 812.5,1168.4 808.1,1161.9 801.6,1155.3 796.1,1148.8 793.9,1142.2Z" fill="#74a9cf" stroke="#74a9cf" stroke-width="2.5"/>
<path d="M168.7,1286.3 180,1273.1 187.5,1261.9 195,1250.6 202.5,1239.4 210,1231.9 217.5,1232.8 220.3,1237.5 223.1,1243.1 228.8,1250.6 236.3,1255.3 245.6,1257.2 255,1258.1 264.4,1259.1 271.9,1257.2 273.8,1261.9 281.3,1265.6 290.6,1267.5 300,1266.6 311.3,1262.8 322.5,1257.2 331.9,1253.4 339.4,1254.4 345,1252.5 352.5,1245 363.8,1240.3 375,1239.4 386.3,1239.4 397.5,1238.4 406.9,1236.6 412.5,1235.6 425,1236.2 440,1235 455,1236.2 465,1241.2 475,1238.8 487.5,1233.8 497.5,1237.5 507.5,1235 517.5,1238.8 527.5,1241.2 540,1240 547.5,1235 555,1231.2 565,1227.5 568.8,1233.8 573.8,1231.2 577.5,1240 585,1243.8 592.5,1237.5 596.2,1236.2 593.8,1245 587.5,1251.2 582.5,1257.5 583.8,1267.5 592.5,1275 597.5,1290 180,1290Z" fill="#cfd8dc" stroke="#cfd8dc" stroke-width="2.5"/>
<path d="M493.1,980 497.5,975 496.2,970 502.5,967.5 505,960 512.5,955 513.8,948.8 516.9,945 523.8,945 527.5,941.2 535,942.5 541.2,943.1 542.5,938.8 547.5,936.9 550,940 556.2,941.2 561.2,942.5 565,945 570,943.8 572.5,946.9 571.2,951.2 575,951.2 577.5,957.5 580.6,960 579.4,963.8 576.2,962.5 577.5,967.5 580,970 576.2,971.2 572.5,970 571.2,975 575,980 570,976.2 565,975 561.2,977.5 558.1,973.8 555,978.8 552.5,985 551.9,991.2 548.8,986.2 545,981.2 542.5,975 540,977.5 536.2,981.2 532.5,983.8 527.5,986.2 522.5,987.5 517.5,986.9 513.8,985 511.2,980 510,975 505,975 501.2,976.2 497.5,980Z" fill="#0570b0" stroke="#0570b0" stroke-width="2.5"/>
<path d="M766.2,296.2 780,285 790,290 800,302.5 805,295 820,291.2 837.5,293.8 855,301.2 875,303.8 890,310 898.8,320 901.2,332.5 895,347.5 882.5,357.5 862.5,360 845,363.8 832.5,360 820,357.5 806.2,357.5 815,362.5 827.5,367.5 830,373.8 845,377.5 852.5,390 850,395 860,407.5 862.5,415 880,420 895,421.2 905,415 905,407.5 895,400 882.5,397.5 880,390 895,387.5 915,388.8 926.2,387.5 920,377.5 906.2,370 905,360 912.5,342.5 917.5,330 930,327.5 937.5,326.2 945,333.8 940,322.5 935,310 922.5,302.5 920,290 913.8,280 898.8,270 910,271.2 917.5,263.8 927.5,265 936.2,272.5 930,282.5 927.5,290 932.5,296.2 945,298.8 957.5,295 962.5,290 960,277.5 955,270 960,265 962.5,265 967.5,242.5 972.5,230 975,220 978.8,210 985,215 987.5,225 997.5,216.2 1000,205 1010,192.5 1013.8,181.2 1025,178.8 1035,178 1282,178 1282,802 1270,805 1269,810 1272,825 1270,842 1275,846 1282,846 1282,903 1280,902.5 1262.5,905 1250,911.2 1242.5,917.5 1222.5,915 1207.5,918.8 1192.5,923.8 1177.5,925 1165,932.5 1152.5,927.5 1140,922.5 1125,920 1112.5,916.2 1100,913.8 1088.8,911.2 1090,910 1100,903.8 1106.2,900 1103.8,890 1105,880 1110,873.8 1096.2,867.5 1105,860 1107.5,852.5 1115,842.5 1110,838.8 1095,846.2 1095,846.2 1093.8,837.5 1100,827.5 1115,817.5 1112.5,807.5 1106.2,801.2 1108.8,796.2 1105,792.5 1103.8,782.5 1100,772.5 1082.5,773.8 1067.5,773.8 1060,776.2 1047.5,770 1032.5,778.8 1020,781.2 1012.5,772.5 1002.5,765 990,765 985,760 985,757.5 982.5,751.2 975,748.8 967.5,741.2 960,746.2 947.5,750 937.5,757.5 937.5,757.5 936.2,751.2 927.5,740 923.8,732.5 928.8,727.5 937.5,727.5 943.8,718.8 937.5,712.5 926.2,712.5 925,705 915,700 903.8,690 905,682.5 900,677.5 895,667.5 885,665 875,675 870,670 858.8,666.2 851.2,666.2 851.2,666.2 847.5,657.5 838.8,650 837.5,640 830,628.8 830,628.8 831.2,621.2 828.8,612.5 825,600 823.8,590 825,580 827.5,576.2 830,566.2 840,558.8 852.5,556.2 845,551.2 837.5,553.8 827.5,550 823.8,541.2 820,545 815,546.2 820,537.5 830,517.5 837.5,495 842.5,480 840,470 820,456.2 818.8,447.5 808.8,435 807.5,425 798.8,412.5 800,402.5 795,392.5 780,367.5 782.5,357.5 778.8,347.5 761.2,332.5 757.5,320 760,307.5 763.8,302.5Z" fill="#3690c0"/>
<path d="M932.5,223.8 936.2,220 943.8,219.5 948,222.5 947.5,232.5 943.8,238.8 938.8,238 935,233.8 932,228.8Z" fill="#3690c0" stroke="#3690c0" stroke-width="0.8"/>
<path d="M1282.5,606.2 1265,610 1255,617.5 1250,623.8 1235,627.5 1233.8,637.5 1228.8,650 1225,660 1223.8,672.5 1220,673.8 1231.2,687.5 1226.2,695 1207.5,687.5 1205,697.5 1208.8,705 1210,717.5 1215,727.5 1216.2,745 1225,750 1232.5,747.5 1235,757.5 1242.5,758.8 1250,753.8 1270,762.5 1278.8,763.8 1272.5,770 1282.5,767.5Z" fill="#cfd8dc"/>
<path d="M1282.5,902.5 1262.5,905 1250,911.2 1242.5,917.5 1222.5,915 1207.5,918.8 1192.5,923.8 1177.5,925 1165,932.5 1177.5,935 1192.5,937.5 1205,945 1212.5,955 1216.2,967.5 1225,965 1235,958.8 1242.5,960 1255,962.5 1265,972.5 1270,985 1282.5,983.8Z" fill="#cfd8dc"/>
<path d="M1255,962.5 1267.5,950 1282.5,943.8" fill="none"/>
<path d="M972.5,1068.1 977.5,1067.5 985,1066.2 992.5,1063.8 1000,1061.2 1007.5,1060 1015,1057.5 1018.8,1052.5 1022.5,1047.5 1027.5,1042.5 1032.5,1037.5 1037.5,1032.5 1042.5,1027.5 1055,1020 1070,1013.8 1082.5,1008.8 1087.5,1013.8 1097.5,1016.2 1107.5,1011.2 1120,1017.5 1135,1015 1147.5,1012.5 1160,1010 1172.5,1003.8 1185,998.8 1197.5,990 1207.5,980 1216.2,967.5 1225,965 1235,958.8 1242.5,960 1255,962.5 1265,972.5 1270,985 1282.5,983.8 1282.5,1070 1272.5,1072.5 1267.5,1082.5 1255,1090 1240,1100 1230,1107.5 1217.5,1115 1205,1120 1192.5,1122.5 1182.5,1130 1172.5,1133.8 1163.8,1132.5 1161.2,1140 1165,1146.2 1160,1153.8 1158.8,1162.5 1153.8,1157.5 1152.5,1145 1153.8,1138.8 1150,1136.2 1146.2,1138.8 1140,1150 1132.5,1150 1122.5,1150 1115,1157.5 1107.5,1167.5 1102.5,1175 1090,1180 1082.5,1182.5 1072.5,1177.5 1060,1175 1045,1173.8 1033.8,1177.5 1031.2,1185 1027.5,1192.5 1017.5,1200 1007.5,1198.8 1000,1192.5 992.5,1188.8 985,1190 977.5,1185 967.5,1187.5 960,1180 957.5,1175.9 954.4,1169.7 949.7,1163.4 943.4,1157.2 948.1,1152.5 941.9,1154.1 935.6,1152.5 940.3,1147.8 943.4,1141.6 938.8,1138.4 929.4,1140 926.2,1135.3 932.5,1132.2 936.4,1123.6 927.8,1127.5 921.6,1122.8 920,1113.4 923.8,1115 926.2,1110 930,1105 933.8,1102.5 937.5,1101.2 942.5,1100.6 946.2,1099.4 950,1100 952.5,1097.5 957.5,1096.2 962.5,1095 967.5,1094.4 972.5,1093.8 976.2,1091.2 973.8,1087.5 977.5,1085 982.5,1082.5 987.5,1080 991.9,1077.5 987.5,1079.4 981.2,1080 976.2,1078.8 971.9,1076.2 972.5,1072.5Z" fill="#74a9cf"/>
<path d="M912.5,1066.2 915,1063.8 917.5,1059.4 922.5,1056.9 927.5,1055 932.5,1056.2 937.5,1053.1 942.5,1051.9 945,1057.5 950,1062.5 956.2,1066.2 962.5,1067.5 969.4,1068.1 970,1072.5 970.6,1076.2 966.2,1075.6 961.2,1076.2 958.8,1078.1 955,1077.5 950,1080 945,1081.2 941.2,1083.8 938.8,1087.5 936.2,1092.5 932.5,1095 928.8,1096.2 925.6,1100 922.5,1105 920,1110 918.8,1106.2 921.2,1101.2 923.8,1097.5 920,1098.1 916.2,1097.5 912.5,1097.5 913.1,1093.8 914.4,1088.8 915.6,1083.8 917.5,1078.8 918.8,1073.8 916.2,1070Z" fill="#74a9cf"/>
<path d="M1282.5,1070 1272.5,1072.5 1267.5,1082.5 1255,1090 1240,1100 1230,1107.5 1217.5,1115 1205,1120 1192.5,1122.5 1182.5,1130 1172.5,1133.8 1163.8,1132.5 1161.2,1140 1165,1146.2 1160,1153.8 1158.8,1162.5 1157.5,1172.5 1160,1185 1161.2,1195 1165,1200 1162.5,1215 1161.2,1230 1160,1242.5 1157.5,1255 1155,1267.5 1152.5,1282.5 1282.5,1282.5Z" fill="#cfd8dc"/>
<path d="M1272.5,1072.5 1263.8,1105 1270,1120 1272.5,1135 1270,1160 1237.5,1206.2 1251.2,1227.5 1258.8,1228.8 1260,1232.5 1282.5,1227.5" fill="none"/>
<path d="M1237.5,1206.2 1210,1251.2 1180,1251.2 1175,1242.5 1172.5,1230" fill="none"/>
<path d="M1210,1251.2 1225,1267.5 1215,1282.5" fill="none"/>
<path d="M1162,1196.2 1167.5,1195 1180,1197.5 1182.5,1205 1175,1217.5 1172.5,1230 1166.2,1242.5 1162,1241.2" fill="none"/>
<path d="M1172.5,1230 1177.5,1240 1172.5,1255 1167.5,1282.5" fill="none"/>
<path d="M805,810 807.5,815 812.5,822.5 816.2,827.5 817.5,837.5 810,847.5 803.8,860 801.2,870 802.5,880 798.8,885 797.5,892.5 798.8,898.8 805,902.5 813.8,907.5 825,905 840,903.8 851.2,908.8 862.5,900 872.5,892.5 881.2,887.5 890,881.2 900,878.8 910,882.5 917.5,882.5 927.5,885 932.5,895 937.5,902.5 945,907.5 950,915 948.8,922.5 940,925 935,926.2 933.8,935 935,945 930,952.5 926.2,955 937.5,957.5 945,952.5 952.5,951.2 951.2,945 953.8,937.5 960,932.5 966.2,920 970,910 972.5,910 980,902.5 978.8,890 985,902.5 997.5,905 1010,910 1022.5,905 1035,902.5 1045,896.2 1055,887.5 1065,875 1075,867.5 1082.5,860 1090,852.5 1095,846.2 1095,846.2 1093.8,837.5 1100,827.5 1115,817.5 1112.5,807.5 1106.2,801.2 1108.8,796.2 1105,792.5 1103.8,782.5 1100,772.5 1082.5,773.8 1067.5,773.8 1060,776.2 1047.5,770 1032.5,778.8 1020,781.2 1012.5,772.5 1002.5,765 990,765 985,760 985,757.5 982.5,751.2 975,748.8 967.5,741.2 960,746.2 947.5,750 937.5,757.5 937.5,757.5 928.8,761.2 923.8,767.5 925,782.5 912.5,786.2 900,783.8 882.5,788.8 860,788.8 840,791.2 833.8,792.5 827.5,793.8 821.2,796.2 816.2,798.8 813.8,803.8 810,806.9 805.6,806.2Z" fill="#cfd8dc"/>
<path d="M1010,932.5 1013.8,926.2 1022.5,920 1032.5,912.5 1035,906.2 1043.8,903.8 1046.2,909.5 1052.5,916.2 1060,918.8 1070,915 1080,910 1085,912.5 1077.5,918.8 1067.5,922.5 1060,927.5 1053.8,935 1050,945 1042.5,950 1035,948.8 1032.5,940 1025,935 1017.5,933.8Z" fill="#cfd8dc" stroke="#cfd8dc" stroke-width="0.8"/>
<path d="M831.2,686.2 840,680 845,672.5 851.2,666.2 858.8,666.2 870,670 875,675 885,665 895,667.5 900,677.5 905,682.5 903.8,690 915,700 925,705 926.2,712.5 937.5,712.5 943.8,718.8 937.5,727.5 928.8,727.5 923.8,732.5 927.5,740 936.2,751.2 937.5,757.5 928.8,761.2 923.8,767.5 925,782.5 912.5,786.2 900,783.8 882.5,788.8 860,788.8 840,791.2 833.8,792.5 827.5,793.8 821.2,796.2 816.2,798.8 813.8,803.8 810,806.9 805.6,806.2 805,800 803.8,795 800,792.5 795.6,790.6 796.2,787.5 800,782.5 805,777.5 805.6,772.5 803.1,765 800,757.5 796.2,750 793.8,743.8 800,742.5 805,740 808.8,741.2 812.5,736.2 816.2,733.8 818.8,730 823.8,728.8 827.5,730 828.8,727.5 825,726.2 823.8,721.2 825.6,715 825,708.8 830,703.8 833.8,700Z" fill="#74a9cf"/>
<path d="M881.2,887.5 890,881.2 900,878.8 910,882.5 917.5,882.5 927.5,885 932.5,895 937.5,902.5 945,907.5 950,915 948.8,922.5 940,925 935,926.2 933.8,935 935,945 930,952.5 926.2,955 923.8,945 922.5,935 918.8,922.5 910,912.5 900,902.5 890,892.5Z" fill="#74a9cf"/>
<path d="M595,626.3 592.2,622.5 587.5,618.8 583.8,615 581.9,607.5 580,598.1 577.2,601.9 576.3,609.4 572.5,616.9 566.9,621.6 561.3,626.3 555.6,633.8 550,639.4 542.5,645 533.1,647.8 523.8,645 516.3,639.4 510.6,633.8 507.8,626.3 510.6,618.8 506.9,611.3 512.5,603.8 507.8,596.3 510.6,588.8 505.9,581.3 508.8,573.8 505,566.3 507.8,558.8 505.9,551.3 506.9,543.8 512.5,538.1 518.1,534.4 523.8,528.8 531.3,525 538.8,521.3 535,513.8 542.5,511.9 548.1,508.1 555.6,502.5 559.4,495 565,491.3 572.5,485.6 578.1,480 583.8,476.3 592.2,474.4 591.3,466.9 587.5,470.6 581.9,468.8 589.4,463.1 595,457.5 602.5,453.8 606.3,444.4 600.6,448.1 596.9,444.4 602.5,436.9 604.4,427.5 610,420 607,413.1 612.7,401.9 618.3,390.6 622.5,380.8 626,374.5 622.5,366.7 628.1,361.1 623.2,354.8 623.9,347 630.9,342.8 636.6,346.3 642.2,340 646.4,329.5 653.4,324.5 659.1,316.1 664.7,310.5 673.1,305.5 680.2,299.2 687.2,296.4 691.4,288 698.4,285.2 704.1,290.8 706.9,290.8 712.5,286.6 713.9,297.8 716.7,296.4 718.1,288 719.5,278.1 722.3,273.9 726.6,280.9 730.8,285.2 735,282.3 733.6,275.3 735,269.7 739.2,273.9 742,279.5 746.3,276.7 749.1,272.5 754.7,273.9 760.3,272.5 765.9,275.3 764.5,280.9 760.3,285.2 754.7,287.3 751.9,290.8 758.9,292.2 764.5,296.4 766.6,297.1 763.8,302.7 760.3,309.1 760.3,309.1 758.2,303.4 753.3,299.2 746.3,295 740.6,292.2 735,296.4 729.4,299.2 726.6,306.3 727.3,316.1 729.4,323.1 728,328.8 725.2,333 722.3,338.6 716.7,335.8 711.1,334.4 709.7,338.6 704.1,341.4 698.4,340 694.2,334.4 690,328.8 685.8,325.9 683,326.6 681.6,331.6 680.9,334.4 680.9,334.4 676.6,334.4 674.5,337.2 675.9,342.8 673.1,348.4 676.6,351.3 674.5,354.1 667.5,353.4 659.1,352.7 655.5,356.9 654.1,362.5 652,366.7 646.4,368.1 642.2,373.8 640.8,380.8 638,385 639.4,390.6 638,397.7 635.2,403.3 632.3,408.9 630.9,415.9 626.7,421.6 623.9,427.2 623.9,430 625,420 624.1,431.3 625,442.5 621.3,453.8 619.4,463.1 623.1,470.6 621.3,478.1 613.8,481.9 604.4,485.6 600.6,495 598.8,502.5 597.8,511.9 599.7,521.3 598.8,530.6 600.6,540 604.4,547.5 609.1,555 608.1,562.5 602.5,570 606.3,581.3 604.4,592.5 597.8,600 598.8,607.5 596.9,618.8 595,626.3Z" fill="#3690c0"/>
<path d="M504.6,549 505.8,552 518.1,547.5 530.3,541.9 529.8,540 518.1,544.5Z" fill="#ffffff" stroke="#ffffff" stroke-width="0.8"/>
<path d="M504.1,564 505.8,566.6 519.1,562.1Z" fill="#ffffff" stroke="#ffffff" stroke-width="0.8"/>
<path d="M507.3,578.6 508.8,581.6 518.1,575.6 528.4,570 536.9,562.5 539.1,556.5 536.9,554.3 533.5,560.6 525.6,567.4 516.3,572.8Z" fill="#ffffff" stroke="#ffffff" stroke-width="0.8"/>
<path d="M507.4,594 508.8,596.6 520.9,592.9Z" fill="#ffffff" stroke="#ffffff" stroke-width="0.8"/>
<path d="M506.5,608.6 508.6,611.3 522.8,607.1Z" fill="#ffffff" stroke="#ffffff" stroke-width="0.8"/>
<path d="M508.8,624 510.6,626.3 520.9,622.9Z" fill="#ffffff" stroke="#ffffff" stroke-width="0.8"/>
<path d="M522.3,529.9 525.6,527.4 534.1,536.6 532,537.8Z" fill="#ffffff" stroke="#ffffff" stroke-width="0.8"/>
<path d="M533.5,514.9 536.9,513.2 544.8,522.4 542.9,523.5Z" fill="#ffffff" stroke="#ffffff" stroke-width="0.8"/>
<path d="M545.9,509.3 549.1,507.2 556,516 554.1,517.1Z" fill="#ffffff" stroke="#ffffff" stroke-width="0.8"/>
<path d="M557.9,495.4 561.3,493.5 569.1,502.9 567.3,504Z" fill="#ffffff" stroke="#ffffff" stroke-width="0.8"/>
<path d="M571,486 574.4,484.1 580.4,492.6 578.5,493.5Z" fill="#ffffff" stroke="#ffffff" stroke-width="0.8"/>
<path d="M578.1,485.6 583.8,481.9 589.4,480 591.3,483.8 583.8,489.4 578.1,491.3Z" fill="#ffffff" stroke="#ffffff" stroke-width="0.8"/>
<path d="M595,458.4 597.8,456.8 600.6,465 598.8,466.1Z" fill="#ffffff" stroke="#ffffff" stroke-width="0.8"/>
<path d="M514.4,633.8 516.6,632.3 524.7,638.4 523.4,639.8Z" fill="#ffffff" stroke="#ffffff" stroke-width="0.8"/>
<path d="M626,374.5 633,369.5 642.2,361.1 650.6,351.3 655.5,341.4 652.7,340 646.4,348.4 639.4,355.5 630.9,363.9Z" fill="#ffffff" stroke="#ffffff" stroke-width="0.8"/>
<path d="M642.2,340 643.9,341.7 648.9,334.7 647.3,333Z" fill="#ffffff" stroke="#ffffff" stroke-width="0.8"/>
<path d="M659.1,316.1 660.8,318.1 666.4,313.6 664.7,311.9Z" fill="#ffffff" stroke="#ffffff" stroke-width="0.8"/>
<path d="M673.1,305.5 674.5,307.7 679,304.3 677.6,302.3Z" fill="#ffffff" stroke="#ffffff" stroke-width="0.8"/>
<path d="M664,323.1 670.3,328.8 674.5,330.9 673.1,326.6 668.9,321 665.4,320Z" fill="#ffffff" stroke="#ffffff" stroke-width="0.8"/>
<path d="M682.3,311.9 684.1,314 690.7,307 689,305.1Z" fill="#ffffff" stroke="#ffffff" stroke-width="0.8"/>
<path d="M694.5,303.2 696.2,305.1 701.5,298.9 699.8,297.3Z" fill="#ffffff" stroke="#ffffff" stroke-width="0.8"/>
<path d="M628.8,348.7 635.2,351.5 642.2,352.2 643,350.1 635.9,349.1 629.8,346.8Z" fill="#ffffff" stroke="#ffffff" stroke-width="0.8"/>
<path d="M633,380.8 635.2,382.2 640.8,373.8 639.1,372.3Z" fill="#ffffff" stroke="#ffffff" stroke-width="0.8"/>
<path d="M616.9,396.3 619,397.4 623.9,388.5 622.2,387.5Z" fill="#ffffff" stroke="#ffffff" stroke-width="0.8"/>
<path d="M653.4,331.6 655.5,333 659.8,326.6 657.9,325.5Z" fill="#ffffff" stroke="#ffffff" stroke-width="0.8"/>
<path d="M706.9,278.1 708.6,278.8 709,288 707.3,288Z" fill="#ffffff" stroke="#ffffff" stroke-width="0.8"/>
<path d="M688.6,292.2 690.3,293.3 693.5,288.7 692.1,287.7Z" fill="#ffffff" stroke="#ffffff" stroke-width="0.8"/>
<path d="M595,626.3 596.9,618.8 598.8,607.5 597.8,600 604.4,592.5 606.3,581.3 602.5,570 608.1,562.5 609.1,555 604.4,547.5 600.6,540 598.8,530.6 599.7,521.3 597.8,511.9 598.8,502.5 600.6,495 604.4,485.6 613.8,481.9 621.3,478.1 623.1,470.6 619.4,463.1 621.3,453.8 625,442.5 624.1,431.3 625,420 623.9,430 623.9,427.2 626.7,421.6 630.9,415.9 632.3,408.9 635.2,403.3 638,397.7 639.4,390.6 638,385 640.8,380.8 642.2,373.8 646.4,368.1 652,366.7 654.1,362.5 655.5,356.9 659.1,352.7 667.5,353.4 674.5,354.1 676.6,351.3 673.1,348.4 675.9,342.8 674.5,337.2 676.6,334.4 680.9,334.4 680.9,334.4 683,335.8 688.6,341.4 694.2,345.6 701.3,348.4 708.3,354.1 712.5,358.3 715.3,363.9 716.7,370.9 719.5,375.2 722.3,385 723.8,393.4 725.2,401.9 729.4,407.5 732.2,414.5 733.6,418.8 726.6,418.8 716.7,420.2 711.1,423 706.9,430 712.5,430 707.5,437.5 705,447.5 707.5,457.5 705,467.5 705,470 700,482.5 690,492.5 680,502.5 675,512.5 667.5,522.5 670,532.5 666.2,545 667.5,557.5 671.2,567.5 677.5,575 686.2,580 693.8,590 692.5,602.5 687.5,612.5 680,620 673.8,630 670,640 669.1,643.4 667.2,649.1 670,650.9 669.1,657.5 667.7,665 668.1,672.5 667.2,680 665.3,685.6 664.4,693.1 662.5,697.8 656.9,697.8 651.2,698.7 645.6,701.6 641.9,703.4 638.1,706.2 636.2,710 638.1,713.7 639.5,718.4 637.2,720.8 633.4,720.3 629.7,721.2 625.9,723.1 622.2,722.7 618.4,720.3 619.4,715.6 617.5,710 614.7,704.4 611.9,700.6 612.8,695.9 616.6,692.2 614.7,687.5 610,680 605.3,672.5 601.6,665 597.8,656.6 597.8,650.9 595.9,644.4 590.3,638.7 589.4,629.4 597.5,650 592.5,637.5Z" fill="#74a9cf"/>
<path d="M658.8,605 665,602.5 672.5,603.8 677.5,597.5 680,602.5 677.5,610 670,607.5 662.5,608.8Z" fill="#ffffff" stroke="#ffffff" stroke-width="0.8"/>
<path d="M700.9,647.2 696.2,651.9 693.9,657.5 694.4,663.1 696.7,668.7 698.3,666.9 699.5,672.5 701.9,676.2 703.7,672.5 704.7,664.1 703.7,655.6Z" fill="#74a9cf" stroke="#74a9cf" stroke-width="0.8"/>
<path d="M671.7,677.7 673.7,680 672.8,687.5 671.1,694.5 670,689.4 670.6,682.8Z" fill="#74a9cf" stroke="#74a9cf" stroke-width="0.8"/>
<path d="M683,326.6 685.8,325.9 690,328.8 694.2,334.4 698.4,340 704.1,341.4 709.7,338.6 711.1,334.4 716.7,335.8 722.3,338.6 725.2,333 728,328.8 729.4,323.1 727.3,316.1 726.6,306.3 729.4,299.2 735,296.4 740.6,292.2 746.3,295 753.3,299.2 758.2,303.4 760.3,309.1 757.5,314.7 758.9,317.5 756.1,321.7 760.3,325.9 761.7,333 768.8,338.6 775.8,344.2 778.8,347.5 782.5,357.5 780,367.5 795,392.5 800,402.5 798.8,412.5 807.5,425 808.8,435 818.8,447.5 820,456.2 840,470 842.5,480 842.5,480 837.5,495 830,517.5 820,537.5 815,546.2 802.5,551.2 792.5,555 787.5,560 777.5,565 765,572.5 757.5,576.2 747.5,575 745,571.2 735,567.5 730,562.5 726.2,552.5 725,540 720,532.5 717.5,515 720,497.5 727.5,482.5 735,467.5 742.5,452.5 750,440 752.5,440 751.2,430 745,420 740.6,420.2 733.6,418.8 732.2,414.5 729.4,407.5 725.2,401.9 723.8,393.4 722.3,385 719.5,375.2 716.7,370.9 715.3,363.9 712.5,358.3 708.3,354.1 701.3,348.4 694.2,345.6 688.6,341.4 683,335.8 680.9,334.4 681.6,331.6Z" fill="#0570b0"/>
<path d="M765,600 772.5,592.5 785,586.2 795,582.5 815,581.2 825,580 823.8,590 825,600 828.8,612.5 831.2,621.2 830,628.8 820,632.5 810,627.5 795,625 786.2,630 782.5,620 777.5,617.5 773.8,618.8 767.5,610 768.8,603.8Z" fill="#0570b0"/>
<path d="M744,628 750.5,621.5 759.5,620 759,626.2 752,631.5 745,631.5Z" fill="#0570b0" stroke="#0570b0" stroke-width="0.8"/>
<path d="M748.5,610 756.5,607.5 758.5,614 752.5,617.5Z" fill="#0570b0" stroke="#0570b0" stroke-width="0.8"/>
<path d="M786.2,630 795,625 810,627.5 820,632.5 830,628.8 837.5,640 838.8,650 847.5,657.5 851.2,666.2 845,672.5 840,680 831.2,686.2 820,680 806.2,675 800,671.2 795,676.2 781.2,676.2 773.8,678.8 757.5,680 746.2,686.2 743.8,677.5 745,665 746.2,655 751.2,647.5 758.8,643.8 766.2,650 772.5,657.5 781.2,660 786.2,655 787.5,647.5 782.5,637.5Z" fill="#3690c0"/>
<path d="M746.2,686.2 757.5,680 773.8,678.8 781.2,676.2 795,676.2 800,671.2 806.2,675 820,680 831.2,686.2 833.8,700 830,703.8 825,708.8 825.6,715 823.8,721.2 825,726.2 828.8,727.5 827.5,730 823.8,728.8 818.8,730 816.2,733.8 812.5,736.2 808.8,741.2 805,740 800,742.5 793.8,743.8 791.2,740 788.8,736.2 783.8,734.4 780,731.9 777.5,731.2 776.9,725 775,718.8 771.2,715.6 765,717.5 757.5,716.2 751.9,713.8 747.5,702.5 745,692.5Z" fill="#3690c0"/>
<path d="M751.9,713.8 757.5,716.2 765,717.5 771.2,715.6 775,718.8 776.9,725 777.5,731.2 780,731.9 777.5,735 767.5,736.9 755,738.1 742.5,739 732.5,738.8 736.2,731.2 740,728.8 745,723.8 750,722.5 752.5,718.8Z" fill="#3690c0"/>
<path d="M645,767.5 655,760 670,750 680,742.5 687.5,736.2 696.2,733.1 705,733.8 710,738.8 715,742.5 721.2,744.4 727.5,741.2 732.5,738.8 742.5,739 755,738.1 767.5,736.9 777.5,735 780,731.9 783.8,734.4 788.8,736.2 791.2,740 793.8,743.8 796.2,750 800,757.5 803.1,765 805.6,772.5 805,777.5 800,782.5 796.2,787.5 795.6,790.6 800,792.5 803.8,795 805,800 805.6,806.2 805,810 807.5,815 812.5,822.5 816.2,827.5 817.5,833.8 815,840 810,847.5 806.2,853.8 803.8,860 801.2,870 802.5,880 792.5,875 782.5,873.8 772.5,876.2 765,877.5 755,882.5 750,885 743.8,881.2 740,876.2 732.5,880 730,875 720,867.5 711.2,865 707.5,857.5 695,858.8 692.5,865 685,860 680,852.5 672.5,850 665,845 658.8,846.2 655,830 652.5,815 650,802.5 643.8,792.5 646.2,782.5 648.8,773.8Z" fill="#0570b0"/>
<path d="M551.2,737.5 552.5,747.5 548.8,755 553.8,762.5 548.1,767.5 546.9,771.2 545,775 543.1,778.8 541.2,776.2 540,771.9 536.2,771.2 531.2,771.9 526.2,772.5 523.1,775 521.9,778.8 523.8,783.8 523.1,790 521.2,796.2 520.6,800 516.2,801.9 517.5,806.2 521.2,807.5 519.4,812.5 516.2,815 513.8,820 506.2,820 502.5,823.8 503.8,830 506.2,835 503.1,840 500,843.8 501.2,847.5 501.2,852.5 505,856.2 506.2,860 503.8,865 500,868.8 502.5,871.2 503.8,875 507.5,877.5 508.8,880 506.2,883.1 505,886.9 510,891.2 515,895 520,896.2 525,898.8 530,900 536.2,902.5 538.8,905 533.8,915 530,927.5 526.2,940 533.8,942.5 542.5,940 546.2,937.5 552.5,941.2 562.5,943.8 566.2,946.2 577.5,948.8 582.5,945 590,946.2 600,943.8 610,941.2 620,938.8 627.5,942.5 630,937.5 627.5,930 623.8,925 630,917.5 637.5,912.5 643.8,910 635,900 627.5,895 621.2,887.5 617.5,880 616.2,872.5 611.2,867.5 616.2,863.8 625,861.2 635,855 645,850 652.5,845 658.8,846.2 655,830 652.5,815 650,802.5 643.8,792.5 646.2,782.5 648.8,773.8 645,767.5 637.5,766.2 640,761.2 630,755 627.5,751.2 620,750 610,753.8 597.5,760 591.2,765 587.5,758.8 580,752.5 570,747.5 565,738.8Z" fill="#3690c0"/>
<path d="M623.8,745 628.8,743.8 631.2,748.8 627.5,751.2 624.5,748.8Z" fill="#3690c0" stroke="#3690c0" stroke-width="0.8"/>
<path d="M611.2,867.5 616.2,863.8 625,861.2 635,855 645,850 652.5,845 658.8,846.2 665,845 672.5,850 680,852.5 685,860 692.5,865 695,858.8 707.5,857.5 711.2,865 720,867.5 730,875 732.5,880 725,885 720,892.5 715,897.5 706.2,901.2 700,905 692.5,902.5 682.5,900 672.5,901.2 665,900 662.5,906.2 655,910 643.8,910 635,900 627.5,895 621.2,887.5 617.5,880 616.2,872.5Z" fill="#0570b0"/>
<path d="M566.2,946.2 577.5,948.8 582.5,945 590,946.2 600,943.8 610,941.2 620,938.8 627.5,942.5 630,937.5 627.5,930 623.8,925 630,917.5 637.5,912.5 643.8,910 655,910 662.5,906.2 665,900 672.5,901.2 682.5,900 692.5,902.5 700,905 702.5,915 705,922.5 702.5,932.5 697.5,935 692.5,940 693.8,947.5 691.2,955 687.5,960 680,963.8 670,966.2 660,970 650,971.2 642.5,972.5 637.5,968.8 625,966.2 616.2,963.8 612.5,957.5 602.5,956.2 592.5,960 585,963.8 580,966.2 576.2,960 572.5,966.2 567.5,960 566.2,952.5Z" fill="#0570b0"/>
<path d="M493.1,980 497.5,975 496.2,970 502.5,967.5 505,960 512.5,955 513.8,948.8 516.9,945 523.8,945 527.5,941.2 535,942.5 541.2,943.1 542.5,938.8 547.5,936.9 550,940 556.2,941.2 561.2,942.5 565,945 570,943.8 572.5,946.9 571.2,951.2 575,951.2 577.5,957.5 580.6,960 579.4,963.8 576.2,962.5 577.5,967.5 580,970 576.2,971.2 572.5,970 571.2,975 575,980 570,976.2 565,975 561.2,977.5 558.1,973.8 555,978.8 552.5,985 551.9,991.2 548.8,986.2 545,981.2 542.5,975 540,977.5 536.2,981.2 532.5,983.8 527.5,986.2 522.5,987.5 517.5,986.9 513.8,985 511.2,980 510,975 505,975 501.2,976.2 497.5,980Z" fill="#0570b0"/>
<path d="M700,905 706.2,901.2 715,897.5 720,892.5 725,885 732.5,880 740,876.2 743.8,881.2 750,885 755,882.5 765,877.5 772.5,876.2 782.5,873.8 792.5,875 802.5,880 798.8,885 797.5,892.5 798.8,898.8 795,900 782.5,898.8 770,900 765,905 765,905 755,912.5 747.5,917.5 737.5,925 727.5,928.8 715,927.5 705,922.5 702.5,915Z" fill="#0570b0"/>
<path d="M693.8,947.5 692.5,940 697.5,935 702.5,932.5 705,922.5 715,927.5 727.5,928.8 737.5,925 747.5,917.5 755,912.5 765,905 765,905 770,900 782.5,898.8 795,900 798.8,898.8 805,902.5 813.8,907.5 808.8,912.5 802.5,920 795,932.5 791.2,947.5 787.5,960 781.2,965 772.5,970 757.5,968.8 752.5,972.5 747.5,976.2 743.8,981.2 742.5,980 737.5,983.8 727.5,982.5 717.5,978.8 707.5,973.8 700,968.8 693.8,963.8 691.2,958.8 687.5,960 691.2,955Z" fill="#0570b0"/>
<path d="M642.5,972.5 650,971.2 660,970 670,966.2 680,963.8 687.5,960 690,963.8 688.8,967.5 686.9,970.6 682.5,973.8 680.6,977.5 681.2,982.5 683.1,986.2 680,990 676.2,991.2 675,996.2 671.2,998.8 666.9,998.8 663.1,996.2 661.2,993.8 658.8,997.5 653.8,998.8 648.8,998.8 645,1000 641.9,1001.2 640,995 642.5,990 640,980Z" fill="#0a3f66"/>
<path d="M687.5,960 691.2,958.8 693.8,963.8 700,968.8 707.5,973.8 717.5,978.8 727.5,982.5 737.5,983.8 742.5,980 743.8,981.2 745.6,985 746.9,990 748.8,993.8 751.2,996.2 750,1000 750.6,1003.8 750,1006.9 747.5,1006.2 746.2,1003.1 741.2,1001.9 735,1002.5 728.8,1003.1 722.5,1001.9 716.2,1001.9 710,1001.2 705,1000.6 700,1002.5 695,1003.8 690,1003.8 686.2,1005.6 685,1010 686.2,1015 689.4,1018.8 692.5,1022.5 695,1027.5 698.8,1032.5 702.5,1036.2 707.5,1041.2 712.5,1046.2 718.2,1051.2 720.6,1053.6 723.8,1056.8 726.9,1059.9 728,1062.1 726.9,1062.6 723.8,1060 719.9,1057.6 716.8,1055.2 713.6,1052.9 709.6,1051.4 703.4,1050.9 698,1050.5 694,1049.6 692.5,1046.2 688.8,1043.8 685,1041.2 681.2,1037.5 676.9,1034.4 678.8,1031.2 682.5,1030 678.8,1027.5 675,1023.8 672.5,1018.8 670,1013.8 668.1,1008.8 665,1005 661.2,1002.5 657.5,1002.5 655,1005 652.5,1010 650,1015 647.5,1012.5 645,1007.5 642.5,1003.8 641.9,1001.2 645,1000 648.8,998.8 653.8,998.8 658.8,997.5 661.2,993.8 663.1,996.2 666.9,998.8 671.2,998.8 675,996.2 676.2,991.2 680,990 683.1,986.2 681.2,982.5 680.6,977.5 682.5,973.8 686.9,970.6 688.8,967.5 690,963.8Z" fill="#0a3f66"/>
<path d="M730,1065.7 732.3,1066.1 732.2,1066.9 730.2,1066.6Z" fill="#0a3f66" stroke="#0a3f66" stroke-width="0.8"/>
<path d="M742.9,1072.5 744.8,1073.1 745.2,1074.1 743.4,1073.6Z" fill="#0a3f66" stroke="#0a3f66" stroke-width="0.8"/>
<path d="M703.8,1055.2 706.6,1054.5 710.5,1055.3 709.7,1056.1 705.8,1056.1Z" fill="#0a3f66" stroke="#0a3f66" stroke-width="0.8"/>
<path d="M658.8,1007.5 661.9,1010 663.8,1015 661.2,1013.8 659.4,1010Z" fill="#0a3f66" stroke="#0a3f66" stroke-width="0.8"/>
<path d="M672.5,1026.2 676.2,1030 675,1031.2 672.8,1028.5Z" fill="#0a3f66" stroke="#0a3f66" stroke-width="0.8"/>
<path d="M710,1063.8 713.8,1065 713.1,1066 710.2,1065Z" fill="#0a3f66" stroke="#0a3f66" stroke-width="0.8"/>
<path d="M686.2,1005.6 690,1003.8 695,1003.8 700,1002.5 705,1000.6 710,1001.2 716.2,1001.9 722.5,1001.9 728.8,1003.1 735,1002.5 741.2,1001.9 746.2,1003.1 747.5,1006.2 750,1006.9 755,1007.5 756.9,1010 754.4,1015 756.2,1020 758.8,1023.8 763.8,1027.5 760,1030 761.2,1035 763.8,1038.8 760,1041.2 756.2,1043.8 755,1046.2 751.2,1047.5 750,1051.2 748.8,1056.2 748.1,1061.2 746.9,1066.2 748.1,1070 747.1,1073.9 742.5,1072.4 737.8,1069.2 733.1,1066.1 728,1062.1 726.9,1059.9 723.8,1056.8 720.6,1053.6 718.2,1051.2 712.5,1046.2 707.5,1041.2 702.5,1036.2 698.8,1032.5 695,1027.5 692.5,1022.5 689.4,1018.8 686.2,1015 685,1010Z" fill="#3690c0"/>
<path d="M747.5,976.2 752.5,972.5 757.5,968.8 772.5,970 778.8,972.5 781.2,980 787.5,986.2 795,992.5 800,1000 807.5,1003.8 816.2,1001.2 822.5,1003.8 820,1010 826.2,1015 830,1022.5 825,1027.5 823.8,1030 828.8,1035 833.8,1038.8 837.5,1042.5 835,1047.5 831.2,1051.2 828.1,1055 828.8,1060 830,1065 828.8,1067.5 825,1068.1 820,1070 815,1071.2 811.9,1071.2 813.8,1066.2 813.1,1060.6 808.8,1060 805,1056.2 801.2,1052.5 797.5,1048.8 793.1,1046.2 788.8,1052.5 786.2,1056.2 783.1,1060 781.2,1058.8 776.2,1056.2 771.2,1053.8 766.2,1050.6 761.2,1047.5 757.5,1045 755,1046.2 756.2,1043.8 760,1041.2 763.8,1038.8 761.2,1035 760,1030 763.8,1027.5 758.8,1023.8 756.2,1020 754.4,1015 756.9,1010 755,1007.5 750,1006.9 750.6,1003.8 750,1000 751.2,996.2 748.8,993.8 746.9,990 745.6,985 743.8,981.2Z" fill="#0570b0"/>
<path d="M793.1,1046.2 797.5,1048.8 801.2,1052.5 805,1056.2 808.8,1060 813.1,1060.6 813.8,1066.2 811.9,1071.2 811.2,1073.8 807.5,1077.5 803.8,1078.8 800,1081.2 796.2,1078.8 792.5,1075 788.8,1073.8 783.8,1072.5 781.2,1068.8 780.6,1063.8 783.8,1060 787.5,1056.2 788.8,1051.2 790.6,1048.1Z" fill="#cfd8dc"/>
<path d="M755,1046.2 757.5,1045 761.2,1047.5 766.2,1050.6 771.2,1053.8 776.2,1056.2 781.2,1058.8 783.1,1060 780,1062.5 777.5,1065 778.1,1068.8 775,1070 771.9,1067.5 770,1071.2 767.5,1075 766.2,1080 765.6,1085 765,1087.5 761.2,1083.8 756.2,1078.8 752.5,1076.2 747.5,1074.4 748.1,1070 746.9,1066.2 748.1,1061.2 748.8,1056.2 750,1051.2 751.2,1047.5Z" fill="#0a3f66"/>
<path d="M765,1087.5 765.6,1085 766.2,1080 767.5,1075 770,1071.2 771.9,1067.5 775,1070 778.1,1068.8 777.5,1065 780,1062.5 783.1,1060 780.6,1063.8 781.2,1068.8 783.8,1072.5 788.8,1073.8 792.5,1075 796.2,1078.8 800,1081.2 796.2,1085 794.4,1088.8 795,1093.8 793.1,1097.5 795,1102.5 797.5,1107.5 800,1110 803.8,1115 806.2,1120 803.8,1125 801.2,1130 800,1133.8 796.9,1137.5 795,1140 786.2,1142.5 780,1135 775,1127.5 772.5,1117.5 773.8,1107.5 772.5,1097.5 770,1092.5Z" fill="#3690c0"/>
<path d="M828.8,1067.5 825,1068.1 820,1070 815,1071.2 811.9,1071.2 811.2,1073.8 807.5,1077.5 803.8,1078.8 800,1081.2 796.2,1085 794.4,1088.8 795,1093.8 793.1,1097.5 795,1102.5 797.5,1107.5 800,1110 806.2,1108.8 812.5,1107.5 818.8,1106.2 822.5,1102.5 827.5,1100 833.8,1097.5 838.8,1095 844.4,1091.9 843.8,1087.5 843.1,1082.5 841.2,1077.5 837.5,1073.8 832.5,1070Z" fill="#0570b0"/>
<path d="M813.8,907.5 825,905 840,903.8 851.2,908.8 862.5,900 872.5,892.5 881.2,887.5 890,892.5 900,902.5 910,912.5 918.8,922.5 922.5,935 923.8,945 926.2,955 937.5,957.5 945,952.5 952.5,951.2 955,960 951.2,966.2 943.8,965 941.2,972.5 942.5,985 943.8,1000 942.5,1003.8 927.5,996.2 912.5,997.5 902.5,1002.5 892.5,1012.5 882.5,1017.5 867.5,1020 850,1021.2 837.5,1023.8 830,1022.5 826.2,1015 820,1010 822.5,1003.8 816.2,1001.2 807.5,1003.8 800,1000 795,992.5 787.5,986.2 781.2,980 778.8,972.5 772.5,970 781.2,965 787.5,960 791.2,947.5 795,932.5 802.5,920 808.8,912.5Z" fill="#0570b0"/>
<path d="M830,1022.5 837.5,1023.8 850,1021.2 867.5,1020 882.5,1017.5 892.5,1012.5 902.5,1002.5 912.5,997.5 927.5,996.2 942.5,1003.8 937.5,1012.5 935,1022.5 937.5,1032.5 932.5,1040 940,1047.5 941.6,1052.5 942.5,1051.9 937.5,1053.1 932.5,1056.2 927.5,1055 922.5,1056.9 917.5,1059.4 915,1063.8 912.5,1066.2 907.5,1070 909.4,1073.8 907.5,1077.5 902.5,1080 897.5,1082.5 891.2,1084.4 885,1083.8 878.8,1082.5 873.8,1080 868.8,1081.2 862.5,1083.8 856.2,1086.2 850,1088.8 844.4,1091.9 843.8,1087.5 843.1,1082.5 841.2,1077.5 837.5,1073.8 832.5,1070 828.8,1067.5 830,1065 828.8,1060 828.1,1055 831.2,1051.2 835,1047.5 837.5,1042.5 833.8,1038.8 828.8,1035 823.8,1030 825,1027.5Z" fill="#0570b0"/>
<path d="M545,691.2 548.7,692.2 551.6,689.4 553.4,686.6 555.3,684.7 558.1,687.5 560,683.7 562.8,681.4 567.5,680 571.2,682.3 574.1,684.7 573.1,687.5 575.9,691.2 576.9,694.1 581.6,694.1 584.4,695 583.4,698.7 579.7,700.6 576.9,699.7 575,703.4 574.1,708.1 572.2,710.9 569.4,713.7 566.6,715.6 564.7,719.4 565.6,723.1 564.7,726.9 566.6,729.7 562.8,732.5 563.7,735.3 560.9,738.1 551.6,737.7 551.1,734.4 551.6,729.7 552,725 550.6,721.2 547.8,719.4 543.1,718.4 544.1,714.7 545.9,710.9 545,706.2 544.1,702.5 544.5,698.7 544.1,694.1Z" fill="#0570b0" stroke="#0570b0" stroke-width="0.8"/>
<path d="M550.8,737.7 561.4,738.2" fill="none"/>
<path d="M546.4,684.7 548.7,679.1 553.4,677.2 560,676.2 564.7,674.4 567.5,670.6 570.3,665.9 574.1,664.1 576.9,663.6 578.7,668.7 577.8,674.4 575.9,679.1 572.2,680.5 567.5,678.1 561.9,679.1 556.2,680.5 552.5,682.3 550.2,685.6 547.8,686.6Z" fill="#0570b0" stroke="#0570b0" stroke-width="0.8"/>
<path d="M568.4,721.2 572.2,720.3 575.9,719.4 578.7,722.2 582.5,724.1 583.4,727.8 582,731.6 578.7,732.5 575,730.6 572.2,726.9 570.3,724.1Z" fill="#0570b0" stroke="#0570b0" stroke-width="0.8"/>
<path d="M590,715.6 593.7,714.7 596.6,711.9 599.4,714.7 601.2,715.6 605,714.7 604.1,710 603.1,707.2 606.9,705.3 610.6,706.2 611.1,710.9 611.6,715.6 609.7,718.4 607.8,721.2 608.7,725 605.9,727.8 604.1,730.6 604.5,733.4 602.7,734.4 601.2,730.6 598.4,728.7 594.7,727.8 592.8,725 592.3,721.2 590.9,718.4Z" fill="#0570b0" stroke="#0570b0" stroke-width="0.8"/>
<path d="M589.1,738.1 591.9,737.2 594.7,739.1 598.4,740 600.3,741.9 597.5,743.3 593.7,742.8 590.9,740.9Z" fill="#0570b0" stroke="#0570b0" stroke-width="0.8"/>
<path d="M645.6,728.3 649.6,729.7 652.2,732.5 650.1,733.9 646.7,732Z" fill="#0570b0" stroke="#0570b0" stroke-width="0.8"/>
<path d="M521.9,778.8 523.8,783.8 523.1,790 521.2,796.2 520.6,800 516.2,801.9 517.5,806.2 521.2,807.5 519.4,812.5 516.2,815 513.8,820 506.2,820 502.5,823.8 503.8,830 506.2,835 503.1,840 500,843.8 501.2,847.5 498.1,850 495.6,849.4 497.5,845 496.2,841.2 492.5,837.5 488.8,836.2 485,832.5 481.2,831.9 478.1,829.4 475,831.2 471.2,833.1 467.5,833.8 463.8,835.6 460.6,835 456.9,832.5 458.8,830 463.8,827.5 467.5,823.8 470,818.8 473.8,813.8 477.5,808.8 480,802.5 481.9,796.2 483.1,791.2 485,792.5 485.6,798.8 487.5,803.8 492.5,801.2 495,797.5 496.2,792.5 494.4,788.8 495,785 500,781.2 507.5,778.8 515,777.5Z" fill="#0570b0"/>
<path d="M486.9,805.6 497.5,800 501.2,802.5 492.5,810 488.8,808.8Z" fill="#ffffff" stroke="#ffffff" stroke-width="0.8"/>
<path d="M441.2,838.8 448.8,836.2 456.9,832.5 460.6,835 463.8,835.6 467.5,833.8 471.2,833.1 475,831.2 478.1,829.4 481.2,831.9 485,832.5 488.8,836.2 492.5,837.5 496.2,841.2 497.5,845 495.6,849.4 498.1,850 501.2,847.5 501.2,852.5 505,856.2 506.2,860 503.8,865 500,868.8 497.5,871.2 495.6,875 496.2,880 497.5,885 496.9,886.2 493.8,886.2 488.8,883.8 485,880 480,877.5 479.4,872.5 477.5,867.5 476.2,871.2 471.2,870 466.9,870 467.5,865 463.8,861.2 458.8,858.8 455,855 452.5,850 448.8,846.2 443.8,845Z" fill="#74a9cf"/>
<path d="M497.5,871.2 500,868.8 502.5,871.2 503.8,875 507.5,877.5 508.8,880 506.2,883.1 505,886.9 500,887.5 496.9,886.2 497.5,885 496.2,880 495.6,875Z" fill="#3690c0" stroke="#3690c0" stroke-width="0.8"/>
<path d="M425,845 423.8,855 420,860 410,863.8 402.5,867.5 395,871.2 393.8,877.5 385,875 375,876.2 367.5,878.8 365,871.2 360,868.8 357.5,873.8 360,881.2 361.2,890 357.5,893.8 347.5,896.2 340,893.8 332.5,888.8 325,887.5 317.5,886.2 307.5,887.5 300,890 305,897.5 301.2,902.5 310,905 317.5,910 325,913.8 332.5,917.5 336.2,922.5 338.8,928.8 343.8,935 347.5,945 351.2,952.5 355,962.5 356.2,972.5 355,982.5 360,992.5 361.2,1000 355,990 352.5,995 350,1005 346.2,1015 342.5,1025 338.8,1035 337.5,1040 338.8,1045 345,1052.5 355,1057.5 365,1061.2 375,1063.8 385,1062.5 393.8,1067.5 400,1072.5 407.5,1076.2 415,1077.5 422.5,1081.2 430,1080 428.8,1072.5 427.5,1065 432.5,1057.5 440,1052.5 447.5,1050 455,1052.5 462.5,1055 470,1053.8 477.5,1057.5 485,1061.2 495,1063.8 502.5,1060 510,1053.8 515,1050 520,1047.5 523.8,1043.8 523.8,1037.5 516.2,1033.8 512.5,1027.5 515,1018.8 508.8,1012.5 510,1002.5 513.8,995 511.2,987.5 513.8,985 511.2,980 510,975 505,975 501.2,976.2 497.5,980 493.1,980 497.5,975 496.2,970 502.5,967.5 505,960 512.5,955 513.8,948.8 516.9,945 523.8,945 526.9,941.2 526.2,932.5 530,920 535,910 538.8,903.8 536.2,902.5 530,900 525,898.8 520,896.2 515,895 510,891.2 505,886.9 500,887.5 496.9,886.2 493.8,886.2 488.8,883.8 485,880 480,877.5 479.4,872.5 477.5,867.5 476.2,871.2 471.2,870 466.9,870 467.5,865 463.8,861.2 458.8,858.8 455,855 452.5,850 448.8,846.2 443.8,845 441.2,838.8Z" fill="#a6bddb"/>
<path d="M548.8,1081.2 553.8,1080 558.8,1075 560,1083.8 561.2,1092.5 558.8,1102.5 553.8,1112.5 548.8,1108.8 545,1100 545,1090Z" fill="#a6bddb" stroke="#a6bddb" stroke-width="0.8"/>
<path d="M511.2,990 512.5,982.5 520,980 530,977.5 540,975 550,972.5 560,970 570,966.2 580,963.8 585,963.8 592.5,960 602.5,956.2 612.5,957.5 616.2,963.8 625,966.2 637.5,968.8 642.5,972.5 640,980 642.5,990 640,995 643.8,1000 635,995 627.5,992.5 620,997.5 616.2,1005 617.5,1015 621.2,1022.5 616.2,1012.5 617.5,1022.5 622.5,1032.5 630,1037.5 640,1045 647.5,1055 652.5,1065 657.5,1075 665,1085 675,1092.5 685,1095 695,1092.5 700,1095 696.2,1100 700,1105 710,1110 720,1115 730,1120 740,1125 748.8,1132.5 753.8,1138.8 750,1145 742.5,1137.5 735,1132.5 727.5,1132.5 720,1137.5 713.8,1145 712.5,1152.5 717.5,1157.5 725,1162.5 726.2,1172.5 722.5,1180 716.2,1185 712.5,1195 707.5,1203.8 700,1206.2 698.8,1201.2 702.5,1195 707.5,1187.5 710,1180 705,1170 700,1160 692.5,1150 682.5,1145 675,1137.5 665,1130 655,1122.5 647.5,1115 635,1112.5 625,1107.5 617.5,1097.5 607.5,1090 597.5,1082.5 587.5,1075 582.5,1065 577.5,1050 570,1040 560,1035 557.5,1037.5 548.8,1032.5 540,1033.8 530,1040 523.8,1043.8 523.8,1037.5 516.2,1033.8 512.5,1027.5 515,1018.8 508.8,1012.5 510,1002.5 513.8,995 511.2,987.5Z" fill="#74a9cf"/>
<path d="M628.8,1210 637.5,1207.5 647.5,1210 660,1206.2 670,1207.5 680,1203.8 690,1198.8 691.2,1207.5 688.8,1217.5 687.5,1227.5 690,1235 686.2,1240 677.5,1237.5 667.5,1232.5 657.5,1226.2 645,1222.5 635,1220 628.8,1215Z" fill="#74a9cf" stroke="#74a9cf" stroke-width="0.8"/>
<path d="M532.8,1133.8 539.1,1130.6 546.9,1127.5 554.7,1122.8 560.9,1123.6 562.5,1129.1 565.6,1136.9 566.4,1143.1 564.1,1149.4 564.1,1158.8 562.5,1169.7 559.4,1174.4 553.1,1175.9 548.4,1180.6 543.8,1184.5 540.6,1179.1 536.7,1173.6 538.3,1165 539.1,1155.6 537.5,1146.2 535.2,1138.4Z" fill="#74a9cf" stroke="#74a9cf" stroke-width="0.8"/>
<path d="M181.2,1018.8 190,1013.8 200,1010 210,1006.2 218.8,1006.2 225,1012.5 235,1015 245,1018.8 255,1021.2 265,1025 275,1028.8 285,1031.2 295,1032.5 305,1036.2 315,1040 325,1041.2 335,1042.5 338.8,1046.2 342.5,1051.2 350,1056.2 357.5,1060 367.5,1062.5 377.5,1065 387.5,1066.2 395,1068.8 400,1071.2 407.5,1075 417.5,1077.5 427.5,1078.8 432.5,1081.2 428.8,1090 425,1097.5 415,1103.8 405,1107.5 395,1110 385,1113.8 377.5,1118.8 370,1126.2 362.5,1135 355,1142.5 348.8,1150 345,1160 350,1167.5 355,1172.5 347.5,1177.5 340,1182.5 335,1190 332.5,1197.5 327.5,1202.5 320,1206.2 312.5,1211.2 305,1217.5 297.5,1220 287.5,1218.8 277.5,1217.5 267.5,1217.5 257.5,1215 247.5,1215 237.5,1216.2 230,1218.8 222.5,1222.5 218.8,1230 216.2,1231.2 212.5,1225 207.5,1215 203.8,1207.5 202.5,1200 205,1197.5 197.5,1192.5 190,1186.2 183.8,1183.8 185,1175 188.8,1167.5 195,1162.5 197.5,1157.5 192.5,1152.5 192.5,1145 197.5,1140 202.5,1135 198.8,1127.5 195,1120 197.5,1117.5 207.5,1115 212.5,1107.5 210,1100 215,1092.5 216.2,1085 222.5,1080 230,1075 232.5,1070 227.5,1065 226.2,1060 217.5,1058.8 207.5,1056.2 200,1055 195,1052.5 196.2,1047.5 191.2,1046.2 186.2,1048.8 186.2,1040 183.8,1032.5 187.5,1026.2 181.2,1022.5Z" fill="#3690c0"/>
<path d="M186.2,1048.8 191.2,1046.2 196.2,1047.5 195,1052.5 200,1055 207.5,1056.2 217.5,1058.8 226.2,1060 227.5,1065 232.5,1070 230,1075 222.5,1080 216.2,1085 215,1092.5 210,1100 212.5,1107.5 207.5,1115 197.5,1117.5 195,1120 198.8,1127.5 202.5,1135 197.5,1140 192.5,1145 192.5,1152.5 197.5,1157.5 195,1162.5 188.8,1167.5 185,1175 183.8,1183.8 175,1186.2 167.5,1182.5 160,1180 151.2,1178.8 153.8,1172.5 156.2,1162.5 157.5,1152.5 160,1145 155,1140 148.8,1135 151.2,1127.5 157.5,1120 165,1110 170,1100 175,1090 178.8,1077.5 181.2,1065 183.8,1055Z" fill="#0570b0"/>
<path d="M407.5,1156.2 417.5,1150 425,1152.5 428.8,1157.5 421.2,1165 415,1160Z" fill="#3690c0" stroke="#3690c0" stroke-width="0.8"/>
<path d="M442.5,1146.2 448.8,1147.5 450,1151.2 443.8,1150Z" fill="#3690c0" stroke="#3690c0" stroke-width="0.8"/>
<path d="M386.2,1167.5 390,1166.2 391.2,1170 387.5,1171.2Z" fill="#3690c0" stroke="#3690c0" stroke-width="0.8"/>
<path d="M354.7,610.9 359.1,610.4 365.6,613.1 372.2,613.7 378.7,614.2 382,614.8 381.5,618.6 378.7,621.9 375.5,624.1 371.1,627.3 366.7,630.6 363.4,633.9 361.2,637.2 358,640.5 359.1,643.7 363.4,642.7 370,641.6 376.6,642.1 383.1,643.2 388.6,644.8 393,647 393.5,651.4 390.8,656.9 387.5,661.2 384.2,666.7 380.9,671.1 378.7,674.4 375.5,675.5 371.1,676.6 367.8,678.7 372.2,678.7 375.5,680.9 371.1,683.1 364.5,684.2 359.1,683.7 363.4,686.4 368.9,688 374.4,688.6 378.7,690.8 382,695.2 384.2,699.5 388.8,712.5 392.5,725 395,732.5 400,736.2 403.8,745 402.5,752.5 400,756.2 407.5,762.5 410,772.5 407.5,780 412.5,782.5 422.5,783.8 430,790 431.2,800 426.2,807.5 420,810 415,813.8 412.5,820 407.5,822.5 417.5,826.2 420,832.5 412.5,835 400,836.2 387.5,837.5 377.5,836.2 370,837.5 360,835 350,837.5 340,835 332.5,838.8 325,835 317.5,833.8 310,837.5 302.5,842.5 296.2,840 305,832.5 312.5,827.5 320,822.5 330,820 340,817.5 350,812.5 355,807.5 347.5,810 340,811.2 332.5,807.5 325,803.8 317.5,797.5 313.8,793.8 320,791.2 330,788.8 335,780 335,770 333.8,760 336.2,756.2 342.5,760 352.5,762.5 358.8,763.8 360,757.5 356.2,752.5 362.5,747.5 363.8,740 356.2,732.5 353.8,725 360,717.5 362.5,712.5 360.2,713.7 354.7,714.8 349.2,715.9 343.7,717 340.5,713.7 336.1,711.6 335,708.3 337.2,703.9 340.5,699.5 343.7,696.2 342.7,691.9 343.7,687.5 347,685.3 343.7,683.1 340.5,680.9 343.7,677.7 341.6,674.4 339.4,676.6 336.1,678.7 332.8,675.5 333.9,672.2 338.3,670 336.1,666.7 339.4,662.3 342.7,658.5 337.2,659.1 333.9,655.8 335,651.4 337.2,647 338.3,641.6 340.5,636.1 342.7,632.8 344.8,628.4 348.1,625.2 350.3,619.7 352.5,615.3Z" fill="#74a9cf" stroke="#74a9cf" stroke-width="0.8"/>
<path d="M321.9,616.4 326.2,613.1 331.7,610.9 335.5,609.3 333.9,614.2 330.6,618.6 327.3,621.9 324.1,623 321.9,619.7Z" fill="#74a9cf" stroke="#74a9cf" stroke-width="0.8"/>
<path d="M312.6,629.5 315.3,629 314.8,633.9 312.6,638.3 310.9,641.6 311.5,636.1Z" fill="#74a9cf" stroke="#74a9cf" stroke-width="0.8"/>
<path d="M323.5,637.7 328.4,636.1 330.1,632.8 331.2,637.2 332.8,641.6 336.1,643.7 332.8,645.9 329.5,643.7 326.8,641.6Z" fill="#74a9cf" stroke="#74a9cf" stroke-width="0.8"/>
<path d="M324.6,661.2 328.4,660.7 331.7,662.3 329.5,664.5 330.6,666.7 327.3,665.6 325.2,663.4Z" fill="#74a9cf" stroke="#74a9cf" stroke-width="0.8"/>
<path d="M316.4,681.5 319.7,680.9 320.8,685.3 318,686.4Z" fill="#74a9cf" stroke="#74a9cf" stroke-width="0.8"/>
<path d="M327.3,687.5 329.5,686.4 328.4,693 326.2,696.2 325.7,691.9Z" fill="#74a9cf" stroke="#74a9cf" stroke-width="0.8"/>
<path d="M332.3,686.4 334.5,687.5 333.9,691.9 332.3,690.8Z" fill="#74a9cf" stroke="#74a9cf" stroke-width="0.8"/>
<path d="M382,602.2 385.3,600 386.4,603.3 383.7,606.6 381.5,605.5Z" fill="#74a9cf" stroke="#74a9cf" stroke-width="0.8"/>
<path d="M415,567.5 420,562.5 417.5,571.2Z" fill="#74a9cf" stroke="#74a9cf" stroke-width="0.8"/>
<path d="M280,695.9 285.6,694.1 291.2,693.1 295,695 297.8,691.2 300.6,694.1 297.8,696.9 301.6,699.7 306.2,697.8 311.9,698.7 315.6,701.6 316.6,707.2 318.4,711.9 317.5,716.6 321.2,717.5 321.7,722.2 318.4,725 314.7,726.9 311.9,729.7 308.1,730.6 306.2,731.6 303.4,732.5 304.4,738.1 305.3,744.7 303.4,749.4 303.4,755 302.5,760.6 300.6,766.2 297.8,770.9 295,774.7 291.2,777.5 292.2,779.4 287.5,778.4 281.9,778.4 276.2,778.4 272.5,779.4 267.8,782.2 264.1,783.1 260.3,784.1 256.6,782.2 251.9,785 248.1,786.9 243.4,785.9 238.7,786.4 233.1,785 237.8,782.2 229.4,780.3 235.9,777.5 225.6,774.7 226.6,770.9 232.2,770 225.6,765.3 230.3,763.4 235.9,764.4 237.8,760.6 243.4,758.7 250,759.7 256.6,758.7 257.5,756.9 251.9,755 245.3,754.1 250,749.4 254.7,745.6 261.2,742.8 259.4,740.9 253.7,741.9 249.1,740 250,736.2 246.2,735.3 241.6,732.5 240.6,729.7 245.3,725.9 250.9,724.1 251.9,718.4 249.1,714.7 249.1,710.9 255.6,710.9 259.4,711.9 262.2,715.6 266.9,714.7 271.6,717.5 272.5,712.8 278.1,712.3 280,710.9 283.7,708.1 276.2,704.4 272.5,703.4 278.1,701.6Z" fill="#74a9cf" stroke="#74a9cf" stroke-width="0.8"/>
<path d="M301.6,699.7 297.8,698.7 294.1,702.5 291.2,706.2 287.5,707.2 285.6,709.1 280,711.9 280.9,715.6 283.7,719.4 287.5,723.1 291.2,724.1 294.1,722.2 293.1,719.4 295.9,717.5 298.7,720.3 298.7,724.1 301.6,726.9 300.6,729.7 303.4,731.1 306.2,731.6" fill="none"/>
<path d="M182.7,361 187,360.2 192.5,361.9 196.9,363.5 201.8,364.1 206.7,365.9 211.1,367 215.5,368.1 218.2,363.7 219.8,358.3 215.5,361 210,363.7 206.7,361.6 211.1,357.7 206.7,356.1 212.2,352.8 207.8,351.2 200.2,349 193.6,344.6 190.3,339.7 194.7,343 202.3,346.2 199.1,341.9 196.9,337.5 200.2,338.6 202.3,341.9 205.6,345.2 207.8,340.8 206.7,335.3 207.8,330.9 210,336.4 212.7,343 216,344.6 218.2,338.6 216.6,333.1 215.5,327.7 218.7,329.8 223.1,330.9 222,335.3 224.2,339.7 223.1,345.2 226.4,350.6 224.2,356.1 226.4,360.5 229.7,362.7 234.1,361.6 235.7,357.2 237.3,351.7 240.6,350.6 241.7,356.1 243.9,362.7 247.2,363.7 248.3,359.4 250.5,356.1 253.7,355 255.9,358.3 256.5,365.9 257,373.6 258.7,371.4 259.2,363.7 261.4,358.3 263.6,362.7 265.8,368.1 269.1,365.9 272.3,361.6 275.6,363.7 278.9,367 282.2,362.7 283.3,357.2 287.7,358.3 288.7,363.7 290.9,368.1 293.1,371.4 295.3,374.7 296.4,379.1 290.9,382.3 295.3,385.6 296.4,388.9 300.8,391.1 301.9,396.6 298.6,399.8 295.3,402 299.7,404.2 296.4,407.5 290.9,406.4 293.1,409.7 289.8,413 286.6,409.7 283.3,414.1 280,417.3 275.6,419.5 272.3,415.2 268,417.3 262.5,420.1 257,421.7 251.6,423.4 246.1,422.8 240.6,422.3 235.2,423.9 229.7,425 224.2,426.1 219.8,423.9 215.5,419.5 211.1,415.2 207.8,410.8 208.9,406.4 206.7,404.2 202.3,400.9 196.9,397.7 191.4,395.5 185.9,392.7 189.2,391.1 195.8,390 202.3,387.8 204.5,384.5 199.6,382.9 203.4,381.2 207.8,379.6 205.6,378 200.7,379.1 199.1,375.8 201.2,372.5 201.8,368.1 194.7,364.8 188.1,363.2Z" fill="#0a3f66" stroke="#0a3f66" stroke-width="0.8"/>
<path d="M795,1140 796.9,1137.5 800,1133.8 801.2,1130 803.8,1125 806.2,1120 803.8,1115 800,1110 806.2,1108.8 812.5,1107.5 818.8,1106.2 822.5,1102.5 827.5,1100 833.8,1097.5 838.8,1095 844.4,1091.9 850,1088.8 856.2,1086.2 862.5,1083.8 868.8,1081.2 873.8,1080 878.8,1082.5 885,1083.8 891.2,1084.4 897.5,1082.5 902.5,1080 907.5,1077.5 909.4,1073.8 907.5,1070 912.5,1066.2 916.2,1070 918.8,1073.8 917.5,1078.8 915.6,1083.8 914.4,1088.8 913.1,1093.8 912.5,1097.5 904.4,1098.4 895.6,1096.3 886.9,1094.1 878.1,1098.4 871.6,1102.8 865,1107.2 862.8,1113.8 869.4,1115.9 875.9,1122.5 869.4,1122.5 862.8,1120.3 858.4,1126.9 854.1,1122.5 849.7,1124.7 845.3,1120.3 846.4,1113.8 843.1,1114.8 839.8,1119.2 843.1,1126.9 849.7,1133.8 855.9,1141.6 860.6,1149.4 852.8,1150.9 851.2,1155.6 857.5,1155.6 863.8,1158.8 871.6,1163.4 877.8,1165 882.5,1166.6 884.1,1171.2 888.8,1175.2 893.4,1177.5 888.8,1179.1 884.1,1175.9 879.4,1174.4 873.1,1172 866.9,1169.7 860.6,1166.6 854.4,1165 846.6,1163.4 851.2,1168.1 859.1,1169.7 866.9,1174.4 874.7,1177.5 879.4,1182.2 882.5,1186.9 879.4,1185.3 873.1,1180.6 866.9,1178.3 862.2,1182.2 859.1,1179.1 852.8,1175.9 846.6,1174.4 838.8,1175.9 830.9,1178.3 824.7,1179.1 819.1,1172.8 812.5,1168.4 808.1,1161.9 801.6,1155.3 796.1,1148.8 793.9,1142.2Z" fill="#74a9cf"/>
<path d="M820,1191.6 824.7,1183.8 830.9,1180.6 838.8,1179.8 846.6,1179.1 854.4,1180.6 860.6,1183.8 865.3,1182.2 866.9,1186.9 863.8,1191.6 866.9,1196.2 871.6,1197.8 866.9,1199.4 860.6,1197.8 857.5,1200.9 860.6,1207.2 865.3,1215 868.4,1221.2 870,1230.6 866.9,1224.4 862.2,1218.1 857.5,1215 855.9,1221.2 855.2,1227.5 851.2,1221.2 848.1,1215 845,1213.4 841.9,1219.7 837.2,1215 834.1,1207.2 829.4,1199.4 824.7,1196.2 820,1193.1Z" fill="#74a9cf" stroke="#74a9cf" stroke-width="0.8"/>
<path d="M887.2,1249.4 893.4,1248.6 898.1,1250.9 904.4,1251.7 910.6,1249.4 916.9,1247.8 923.1,1248.6 929.4,1249.4 934.1,1247 938.8,1248.6 943.4,1247 948.1,1246.2 947.3,1250.9 941.9,1252.5 935.6,1253.3 929.4,1255.6 923.1,1257.2 916.1,1259.5 913.8,1255.6 907.5,1254.1 901.2,1254.8 895,1255.6 887.2,1256.4Z" fill="#74a9cf" stroke="#74a9cf" stroke-width="0.8"/>
<path d="M852,1148.6 859.1,1151.7 866.9,1156.4 874.7,1160.3 882.5,1164.7 881.7,1166.9 873.1,1163.8 865.3,1160.3 857.5,1156.4 851.2,1152.5Z" fill="#74a9cf" stroke="#74a9cf" stroke-width="0.8"/>
<path d="M916.9,1135.3 923.1,1133.8 927.8,1136.9 927.8,1141.6 921.6,1140Z" fill="#74a9cf" stroke="#74a9cf" stroke-width="0.8"/>
<path d="M920.8,1157.2 924.7,1156.4 925.5,1163.4 921.6,1165Z" fill="#74a9cf" stroke="#74a9cf" stroke-width="0.8"/>
<path d="M975.5,1213.4 979.4,1207.2 983.3,1204.1 980.9,1213.4 977,1219.7Z" fill="#74a9cf" stroke="#74a9cf" stroke-width="0.8"/>
<path d="M941.9,1174.4 946.6,1173.6 945.8,1176.2 942.2,1176.4Z" fill="#74a9cf" stroke="#74a9cf" stroke-width="0.8"/>
<path d="M913.8,1197.8 920,1196.2 920,1202.5 915.3,1201.7Z" fill="#74a9cf" stroke="#74a9cf" stroke-width="0.8"/>
<path d="M898.1,1177.5 902.8,1179.8 901.2,1182.5 898.4,1180.6Z" fill="#74a9cf" stroke="#74a9cf" stroke-width="0.8"/>
<path d="M882.5,1102.2 885.3,1101.6 884.7,1105 882.5,1104.7Z" fill="#74a9cf" stroke="#74a9cf" stroke-width="0.8"/>
<path d="M896.6,1121.2 901.2,1120.5 900.6,1123.8 896.9,1123.4Z" fill="#74a9cf" stroke="#74a9cf" stroke-width="0.8"/>
<path d="M964.5,1230.6 966.2,1235.3 965,1234.7Z" fill="#74a9cf" stroke="#74a9cf" stroke-width="0.8"/>
<path d="M907.5,1190 910.6,1191.6 909.4,1194.4 906.9,1192.5Z" fill="#74a9cf" stroke="#74a9cf" stroke-width="0.8"/>
<path d="M927.8,1177.5 931.2,1178.4 930.3,1180.6 927.5,1179.7Z" fill="#74a9cf" stroke="#74a9cf" stroke-width="0.8"/>
<path d="M929.4,1199.4 932.5,1197.8 932.8,1201.2 930,1201.9Z" fill="#74a9cf" stroke="#74a9cf" stroke-width="0.8"/>
<path d="M951.2,1190 955.9,1188.8 955.3,1191.2 951.6,1191.9Z" fill="#74a9cf" stroke="#74a9cf" stroke-width="0.8"/>
<path d="M788,1145.5 790.6,1147 792.8,1153.1 790.2,1152Z" fill="#74a9cf" stroke="#74a9cf" stroke-width="0.8"/>
<path d="M805.5,1183.8 809.2,1185.9 808.6,1191.4 805.9,1189.9Z" fill="#74a9cf" stroke="#74a9cf" stroke-width="0.8"/>
<path d="M1075.9,1225.5 1079.1,1226.2 1082.2,1220.8 1086.1,1219.2 1089.2,1216.9 1088.4,1213 1093.1,1212.2 1097.8,1210.6 1102.5,1208.3 1106.4,1205.9 1110.3,1202 1114.2,1198.9 1118.5,1195 1115,1200.5 1111.9,1204.4 1109.5,1207.5 1110.3,1212.2 1113.4,1213.8 1110.3,1216.1 1107.2,1216.9 1105.6,1220 1104.8,1223.1 1101.7,1224.7 1097.8,1227 1094.7,1229.4 1094.3,1232.5 1092.3,1230.2 1087.7,1232.5 1083.8,1231.7 1080.6,1231.7 1079.1,1228.6Z" fill="#0570b0" stroke="#0570b0" stroke-width="0.8"/>
<path d="M168.7,1286.3 180,1273.1 187.5,1261.9 195,1250.6 202.5,1239.4 210,1231.9 217.5,1232.8 220.3,1237.5 223.1,1243.1 228.8,1250.6 236.3,1255.3 245.6,1257.2 255,1258.1 264.4,1259.1 271.9,1257.2 273.8,1261.9 281.3,1265.6 290.6,1267.5 300,1266.6 311.3,1262.8 322.5,1257.2 331.9,1253.4 339.4,1254.4 345,1252.5 352.5,1245 363.8,1240.3 375,1239.4 386.3,1239.4 397.5,1238.4 406.9,1236.6 412.5,1235.6 425,1236.2 440,1235 455,1236.2 465,1241.2 475,1238.8 487.5,1233.8 497.5,1237.5 507.5,1235 517.5,1238.8 527.5,1241.2 540,1240 547.5,1235 555,1231.2 565,1227.5 568.8,1233.8 573.8,1231.2 577.5,1240 585,1243.8 592.5,1237.5 596.2,1236.2 593.8,1245 587.5,1251.2 582.5,1257.5 583.8,1267.5 592.5,1275 597.5,1290 180,1290Z" fill="#cfd8dc"/>
<path d="M273.8,1262.8 285,1271.3 300,1282.5" fill="none"/>
<path d="M540,1240 530,1250 532.5,1265 533.8,1285" fill="none"/>
<path d="M217.5,1231.5 220.9,1230.9 221.6,1237.5 219,1238.4Z" fill="#3690c0" stroke="#3690c0" stroke-width="0.8"/>
<path d="M493.1,980 497.5,975 496.2,970 502.5,967.5 505,960 512.5,955 513.8,948.8 516.9,945 523.8,945 527.5,941.2 535,942.5 541.2,943.1 542.5,938.8 547.5,936.9 550,940 556.2,941.2 561.2,942.5 565,945 570,943.8 572.5,946.9 571.2,951.2 575,951.2 577.5,957.5 580.6,960 579.4,963.8 576.2,962.5 577.5,967.5 580,970 576.2,971.2 572.5,970 571.2,975 575,980 570,976.2 565,975 561.2,977.5 558.1,973.8 555,978.8 552.5,985 551.9,991.2 548.8,986.2 545,981.2 542.5,975 540,977.5 536.2,981.2 532.5,983.8 527.5,986.2 522.5,987.5 517.5,986.9 513.8,985 511.2,980 510,975 505,975 501.2,976.2 497.5,980Z" fill="#0570b0"/>
<circle cx="566" cy="955.4" r="5.4" fill="#cfd8dc" stroke="#e6edf1" stroke-width="1.6"/>
<circle cx="512.5" cy="1050.6" r="5.4" fill="#cfd8dc" stroke="#e6edf1" stroke-width="1.6"/>
<circle cx="399.5" cy="1072.5" r="5.4" fill="#cfd8dc" stroke="#e6edf1" stroke-width="1.6"/>
<circle cx="618.1" cy="1036.9" r="5.4" fill="#cfd8dc" stroke="#e6edf1" stroke-width="1.6"/>
<circle cx="627.5" cy="1099.5" r="5.4" fill="#cfd8dc" stroke="#e6edf1" stroke-width="1.6"/>
<circle cx="670.5" cy="1264" r="5.3" fill="#3a90c4" stroke="none"/>
</g>
<g class="lab">
<text x="1016.25" y="567" font-size="61.65" textLength="51.2" lengthAdjust="spacingAndGlyphs" fill="#fff" stroke="#fff">51</text>
<text x="768.125" y="514" font-size="34.59" textLength="33.3" lengthAdjust="spacingAndGlyphs" fill="#fff" stroke="#fff">66</text>
<text x="798.75" y="607.5" font-size="22.56" textLength="21.4" lengthAdjust="spacingAndGlyphs" fill="#fff" stroke="#fff">69</text>
<text x="805" y="666" font-size="24.06" textLength="23.9" lengthAdjust="spacingAndGlyphs" fill="#fff" stroke="#fff">56</text>
<text x="785" y="707.5" font-size="24.81" textLength="24.0" lengthAdjust="spacingAndGlyphs" fill="#fff" stroke="#fff">56</text>
<text x="854.25" y="755" font-size="28.57" textLength="28.2" lengthAdjust="spacingAndGlyphs" fill="#fff" stroke="#fff">42</text>
<text x="543.125" y="602.5" font-size="32.33" textLength="30.7" lengthAdjust="spacingAndGlyphs" fill="#fff" stroke="#fff">59</text>
<text x="629.375" y="638.75" font-size="34.21" textLength="30.8" lengthAdjust="spacingAndGlyphs" fill="#fff" stroke="#fff">43</text>
<text x="559.25" y="710" font-size="15.04" textLength="14.4" lengthAdjust="spacingAndGlyphs" fill="#fff" stroke="#fff">69</text>
<text x="858.75" y="977.5" font-size="30.08" textLength="29.3" lengthAdjust="spacingAndGlyphs" fill="#fff" stroke="#fff">60</text>
<text x="872.5" y="1062.5" font-size="24.81" textLength="24.5" lengthAdjust="spacingAndGlyphs" fill="#fff" stroke="#fff">60</text>
<text x="786.75" y="1030" font-size="26.32" textLength="23.1" lengthAdjust="spacingAndGlyphs" fill="#fff" stroke="#fff">64</text>
<text x="746.25" y="956" font-size="25.56" textLength="24.0" lengthAdjust="spacingAndGlyphs" fill="#fff" stroke="#fff">61</text>
<text x="743" y="911" font-size="25.56" textLength="25.5" lengthAdjust="spacingAndGlyphs" fill="#fff" stroke="#fff">64</text>
<text x="726" y="1035" font-size="21.05" textLength="21.3" lengthAdjust="spacingAndGlyphs" fill="#fff" stroke="#fff">57</text>
<text x="568.75" y="851" font-size="30.08" textLength="29.3" lengthAdjust="spacingAndGlyphs" fill="#fff" stroke="#fff">50</text>
<text x="718" y="820" font-size="28.57" textLength="27.7" lengthAdjust="spacingAndGlyphs" fill="#fff" stroke="#fff">62</text>
<text x="662.375" y="886" font-size="24.06" textLength="24.7" lengthAdjust="spacingAndGlyphs" fill="#fff" stroke="#fff">69</text>
<text x="646.5" y="955" font-size="24.06" textLength="24.4" lengthAdjust="spacingAndGlyphs" fill="#fff" stroke="#fff">65</text>
<text x="657.5" y="992.5" font-size="21.05" textLength="19.3" lengthAdjust="spacingAndGlyphs" fill="#fff" stroke="#fff" transform="rotate(-8 657.5 985.5)">73</text>
<text x="699.375" y="994.7" font-size="22.56" textLength="20.1" lengthAdjust="spacingAndGlyphs" fill="#fff" stroke="#fff">75</text>
<text x="278.75" y="755" font-size="22.56" textLength="21.4" lengthAdjust="spacingAndGlyphs" fill="#fff" stroke="#fff">42</text>
<text x="370.5" y="796" font-size="24.06" textLength="22.4" lengthAdjust="spacingAndGlyphs" fill="#fff" stroke="#fff">41</text>
<text x="409.5" y="975" font-size="31.58" textLength="30.9" lengthAdjust="spacingAndGlyphs" fill="#fff" stroke="#fff">35</text>
<text x="266.875" y="1138.75" font-size="28.20" textLength="27.9" lengthAdjust="spacingAndGlyphs" fill="#fff" stroke="#fff">57</text>
<text x="614.5" y="1077.5" font-size="30.08" textLength="30.8" lengthAdjust="spacingAndGlyphs" fill="#fff" stroke="#fff">43</text>
<text x="823.75" y="1159" font-size="24.81" textLength="24.0" lengthAdjust="spacingAndGlyphs" fill="#fff" stroke="#fff">48</text>
<text x="1042.25" y="1122.5" font-size="27.07" textLength="24.6" lengthAdjust="spacingAndGlyphs" fill="#fff" stroke="#fff">48</text>
<text x="246.3" y="402" font-size="31.58" textLength="29.3" lengthAdjust="spacingAndGlyphs" fill="#fff" stroke="#fff">71</text>
<text x="532" y="969" font-size="22.56" textLength="22.9" lengthAdjust="spacingAndGlyphs" fill="#fff" stroke="#fff" transform="rotate(-12 532 961.5)">66</text>
<text x="911.25" y="906.75" font-size="16.54" textLength="19.0" lengthAdjust="spacingAndGlyphs" fill="#fff" stroke="#fff" transform="rotate(42 911.25 901.25)">46</text>
<text x="760.1" y="1068.4" font-size="16.54" textLength="15.5" lengthAdjust="spacingAndGlyphs" fill="#fff" stroke="#fff" transform="rotate(-18 760.1 1062.9)">70</text>
<text x="510.6" y="795.4" font-size="18.05" textLength="16.6" lengthAdjust="spacingAndGlyphs" fill="#fff" stroke="#fff" transform="rotate(-15 510.6 789.4)">67</text>
<text x="494.4" y="906.25" font-size="15.79" textLength="16.4" lengthAdjust="spacingAndGlyphs" fill="#fff" stroke="#fff" transform="rotate(-27 494.4 901)">55</text>
<text x="477.5" y="856.55" font-size="18.80" textLength="18.6" lengthAdjust="spacingAndGlyphs" fill="#fff" stroke="#fff" transform="rotate(32 477.5 850.3)">40</text>
<text x="169.3" y="1132" font-size="21.05" textLength="19.8" lengthAdjust="spacingAndGlyphs" fill="#fff" stroke="#fff" transform="rotate(-14 169.3 1125)">60</text>
<text x="817" y="1097.25" font-size="15.79" textLength="15.4" lengthAdjust="spacingAndGlyphs" fill="#fff" stroke="#fff" transform="rotate(-15 817 1092)">60</text>
<text x="784.3" y="1124.75" font-size="15.79" textLength="15.4" lengthAdjust="spacingAndGlyphs" fill="#fff" stroke="#fff" transform="rotate(-18 784.3 1119.5)">54</text>
<text x="1077.9" y="1216.45" font-size="15.79" textLength="14.9" lengthAdjust="spacingAndGlyphs" fill="#2a6685" stroke="#2a6685" transform="rotate(-25 1077.9 1211.2)">65</text>
<text x="684.7" y="1267" font-size="16.54" textLength="15.0" lengthAdjust="spacingAndGlyphs" fill="#1a5a88" stroke="#1a5a88" transform="rotate(-15 684.7 1261.5)">54</text>
</g>
<rect x="33.3" y="22.5" width="19.7" height="165.5" fill="#2b2a2c"/>
<g class="txt">
<text x="79.5" y="83.7" font-size="62.8" textLength="810" lengthAdjust="spacingAndGlyphs" fill="#d94a48" stroke="#d94a48" stroke-width="1.2" stroke-linejoin="round" >Safety walking alone at night</text>
<text x="80.5" y="137.8" font-size="33.5" textLength="589" lengthAdjust="spacingAndGlyphs" fill="#2a2a2c" stroke="#2a2a2c" stroke-width="0.7" stroke-linejoin="round" >How safe people feel to walk alone</text>
<text x="80.5" y="177.2" font-size="33.5" textLength="491" lengthAdjust="spacingAndGlyphs" fill="#2a2a2c" stroke="#2a2a2c" stroke-width="0.7" stroke-linejoin="round" >on the streets at night (2025)</text>
<text x="32.5" y="225.6" font-size="25.2" textLength="551" lengthAdjust="spacingAndGlyphs" fill="#2a2a2c" stroke="#2a2a2c" stroke-width="0.35" stroke-linejoin="round" font-style="italic">Map: adventourely.com :: Data: numbeo.com/crime</text>
<text x="32.5" y="256.2" font-size="20" textLength="485" lengthAdjust="spacingAndGlyphs" fill="#8a8a8a" stroke="#8a8a8a" stroke-width="0.25" stroke-linejoin="round" font-style="italic">These data are based on nighttime safety perceptions.</text>
<text x="32.5" y="281.2" font-size="20" textLength="500" lengthAdjust="spacingAndGlyphs" fill="#8a8a8a" stroke="#8a8a8a" stroke-width="0.25" stroke-linejoin="round" font-style="italic">If the value is 0, it means it is perceived as very low, and</text>
<text x="32.5" y="306.4" font-size="20" textLength="485" lengthAdjust="spacingAndGlyphs" fill="#8a8a8a" stroke="#8a8a8a" stroke-width="0.25" stroke-linejoin="round" font-style="italic">if the value is 100, it means it is perceived as very high.</text>
<text x="33.5" y="474.2" font-size="25.6" textLength="91.5" lengthAdjust="spacingAndGlyphs" fill="#222" stroke="#222" stroke-width="0.5" stroke-linejoin="round" >SAFEST</text>
<text x="110.5" y="527.7" font-size="24.6" textLength="80" lengthAdjust="spacingAndGlyphs" fill="#222" stroke="#222" stroke-width="0.5" stroke-linejoin="round" >Croatia</text>
<text x="110.5" y="585.3" font-size="24.6" textLength="98" lengthAdjust="spacingAndGlyphs" fill="#222" stroke="#222" stroke-width="0.5" stroke-linejoin="round" >Slovenia</text>
<text x="110.5" y="644" font-size="24.6" textLength="81" lengthAdjust="spacingAndGlyphs" fill="#222" stroke="#222" stroke-width="0.5" stroke-linejoin="round" >Iceland</text>
<text x="33.5" y="777.8" font-size="25.6" textLength="143.5" lengthAdjust="spacingAndGlyphs" fill="#222" stroke="#222" stroke-width="0.5" stroke-linejoin="round" >LEAST SAFE</text>
<text x="110.5" y="830.5" font-size="24.6" textLength="34" lengthAdjust="spacingAndGlyphs" fill="#222" stroke="#222" stroke-width="0.5" stroke-linejoin="round" >UK</text>
<text x="110.5" y="888.8" font-size="24.6" textLength="94" lengthAdjust="spacingAndGlyphs" fill="#222" stroke="#222" stroke-width="0.5" stroke-linejoin="round" >Belgium</text>
<text x="110.5" y="946" font-size="24.6" textLength="77" lengthAdjust="spacingAndGlyphs" fill="#222" stroke="#222" stroke-width="0.5" stroke-linejoin="round" >France</text>
</g>
<g class="flags">
<g clip-path="url(#fc0)"><rect x="33.3" y="495.4" width="65" height="46" fill="#eeeeee"/><rect x="33.3" y="495.4" width="65" height="15.6" fill="#e3262c"/><rect x="33.3" y="527.8" width="65" height="14" fill="#1b2aa0"/><path d="M57.8,506.4 h13 v14 q0,7 -6.5,9 q-6.5,-2 -6.5,-9z" fill="#f4f4f4" stroke="#d33" stroke-width="0.6"/><rect x="57.8" y="506.4" width="2.6" height="2.8" fill="#e3262c"/><rect x="63.0" y="506.4" width="2.6" height="2.8" fill="#e3262c"/><rect x="68.2" y="506.4" width="2.6" height="2.8" fill="#e3262c"/><rect x="60.4" y="509.2" width="2.6" height="2.8" fill="#e3262c"/><rect x="65.6" y="509.2" width="2.6" height="2.8" fill="#e3262c"/><rect x="57.8" y="512.0" width="2.6" height="2.8" fill="#e3262c"/><rect x="63.0" y="512.0" width="2.6" height="2.8" fill="#e3262c"/><rect x="68.2" y="512.0" width="2.6" height="2.8" fill="#e3262c"/><rect x="60.4" y="514.8" width="2.6" height="2.8" fill="#e3262c"/><rect x="65.6" y="514.8" width="2.6" height="2.8" fill="#e3262c"/><rect x="57.8" y="517.6" width="2.6" height="2.8" fill="#e3262c"/><rect x="63.0" y="517.6" width="2.6" height="2.8" fill="#e3262c"/><rect x="68.2" y="517.6" width="2.6" height="2.8" fill="#e3262c"/><rect x="60.4" y="520.4" width="2.6" height="2.8" fill="#e3262c"/><rect x="65.6" y="520.4" width="2.6" height="2.8" fill="#e3262c"/><rect x="63.0" y="523.2" width="2.6" height="2.8" fill="#e3262c"/><rect x="57.3" y="503.0" width="2.6" height="3.2" fill="#4a90d9"/><rect x="60.1" y="503.0" width="2.6" height="3.2" fill="#1b2aa0"/><rect x="62.9" y="503.0" width="2.6" height="3.2" fill="#4a90d9"/><rect x="65.7" y="503.0" width="2.6" height="3.2" fill="#1b2aa0"/><rect x="68.5" y="503.0" width="2.6" height="3.2" fill="#4a90d9"/></g>
<g clip-path="url(#fc1)"><rect x="33.3" y="553.2" width="65" height="46" fill="#eeeeee"/><rect x="33.3" y="568.2" width="65" height="16" fill="#2a67b5"/><rect x="33.3" y="584.2" width="65" height="15.5" fill="#ea2630"/><path d="M47.3,558.7 h12 v9 q0,5 -6,7 q-6,-2 -6,-7z" fill="#1f4f9a" stroke="#d33" stroke-width="0.5"/><path d="M48.8,569.2 l2.5,-3 l2,2 l2,-3 l2,4 z" fill="#fff"/></g>
<g clip-path="url(#fc2)"><rect x="33.3" y="610.6" width="65" height="46" fill="#1c3f9e"/><rect x="50.8" y="610.6" width="12" height="46" fill="#eeeeee"/><rect x="33.3" y="627.6" width="65" height="12" fill="#eeeeee"/><rect x="54.5" y="610.6" width="4.8" height="46" fill="#e0313a"/><rect x="33.3" y="631.2" width="65" height="4.8" fill="#e0313a"/></g>
<g clip-path="url(#fc3)"><rect x="33.3" y="798" width="65" height="46" fill="#1d3785"/><path d="M33.3,798 L98.3,844 M98.3,798 L33.3,844" stroke="#eeeeee" stroke-width="8.5"/><path d="M33.3,798 L98.3,844 M98.3,798 L33.3,844" stroke="#cf2b37" stroke-width="2.4"/><rect x="57.8" y="798" width="16" height="46" fill="#eeeeee"/><rect x="33.3" y="813" width="65" height="16" fill="#eeeeee"/><rect x="61.5" y="798" width="8.6" height="46" fill="#d9262f"/><rect x="33.3" y="816.7" width="65" height="8.6" fill="#d9262f"/></g>
<g clip-path="url(#fc4)"><rect x="33.3" y="856" width="65" height="46" fill="#fdd923"/><rect x="33.3" y="856" width="21.5" height="46" fill="#181818"/><rect x="76.8" y="856" width="22" height="46" fill="#ec2a33"/></g>
<g clip-path="url(#fc5)"><rect x="33.3" y="913.6" width="65" height="46" fill="#ededed"/><rect x="33.3" y="913.6" width="21.5" height="46" fill="#1b2ea6"/><rect x="76.8" y="913.6" width="22" height="46" fill="#ec2a3a"/></g>
</g>
<g class="logo"><text x="35" y="1253" font-family="Liberation Serif" font-weight="bold" font-size="23.6" textLength="156" lengthAdjust="spacingAndGlyphs" fill="#222">Adventourely</text><path d="M113,1234.6 Q131,1214 152,1232" fill="none" stroke="#d8403d" stroke-width="2.6" stroke-linecap="round"/><path d="M156.6,1227 L157.6,1238.6 L144.5,1237.4 Z" fill="#d8403d"/></g>
</svg>
</body></html>
